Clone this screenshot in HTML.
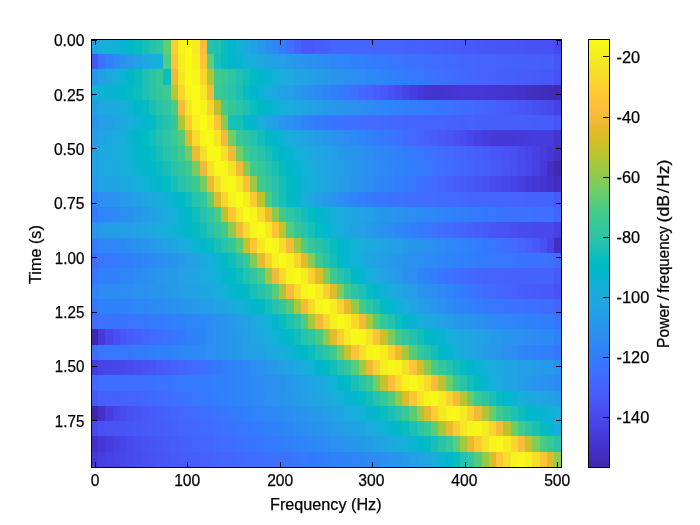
<!DOCTYPE html>
<html lang="en"><head><meta charset="utf-8"><title>Spectrogram</title>
<style>html,body{margin:0;padding:0;background:#fff;}body{width:700px;height:525px;overflow:hidden;}svg{display:block;}text{font-family:"Liberation Sans", "DejaVu Sans", sans-serif;fill:#000;stroke:#000;stroke-width:0.25px;}</style></head><body>
<svg width="700" height="525" viewBox="0 0 700 525">
<rect x="0" y="0" width="700" height="525" fill="#ffffff"/>
<g shape-rendering="crispEdges">
<rect x="91" y="39" width="7" height="15" fill="#1fa6e1"/>
<rect x="98" y="39" width="7" height="15" fill="#19addc"/>
<rect x="105" y="39" width="8" height="15" fill="#16afda"/>
<rect x="113" y="39" width="7" height="15" fill="#11b1d6"/>
<rect x="120" y="39" width="7" height="15" fill="#07b5d0"/>
<rect x="127" y="39" width="7" height="15" fill="#01b8c9"/>
<rect x="134" y="39" width="8" height="15" fill="#06bcc0"/>
<rect x="142" y="39" width="7" height="15" fill="#17bfb6"/>
<rect x="149" y="39" width="7" height="15" fill="#27c2ab"/>
<rect x="156" y="39" width="7" height="15" fill="#2fc5a3"/>
<rect x="163" y="39" width="8" height="15" fill="#62cd70"/>
<rect x="171" y="39" width="7" height="15" fill="#fdcd31"/>
<rect x="178" y="39" width="7" height="15" fill="#f6f21d"/>
<rect x="185" y="39" width="7" height="15" fill="#f9fb15"/>
<rect x="192" y="39" width="8" height="15" fill="#f5eb23"/>
<rect x="200" y="39" width="7" height="15" fill="#fabc3d"/>
<rect x="207" y="39" width="7" height="15" fill="#25c2ae"/>
<rect x="214" y="39" width="7" height="15" fill="#1fc1b1"/>
<rect x="221" y="39" width="7" height="15" fill="#0abdbd"/>
<rect x="228" y="39" width="8" height="15" fill="#02b7cb"/>
<rect x="236" y="39" width="7" height="15" fill="#12b1d7"/>
<rect x="243" y="39" width="7" height="15" fill="#1ca9df"/>
<rect x="250" y="39" width="7" height="15" fill="#22a1e4"/>
<rect x="257" y="39" width="8" height="15" fill="#2699e9"/>
<rect x="265" y="39" width="7" height="15" fill="#2b91ef"/>
<rect x="272" y="39" width="7" height="15" fill="#2d87f7"/>
<rect x="279" y="39" width="7" height="15" fill="#317dfc"/>
<rect x="286" y="39" width="8" height="15" fill="#3d71ff"/>
<rect x="294" y="39" width="7" height="15" fill="#4563fd"/>
<rect x="301" y="39" width="14" height="15" fill="#4759f8"/>
<rect x="315" y="39" width="8" height="15" fill="#465efb"/>
<rect x="323" y="39" width="7" height="15" fill="#4561fc"/>
<rect x="330" y="39" width="7" height="15" fill="#4564fd"/>
<rect x="337" y="39" width="7" height="15" fill="#4465fd"/>
<rect x="344" y="39" width="29" height="15" fill="#4466fd"/>
<rect x="373" y="39" width="15" height="15" fill="#4465fd"/>
<rect x="388" y="39" width="7" height="15" fill="#4564fd"/>
<rect x="395" y="39" width="7" height="15" fill="#4563fd"/>
<rect x="402" y="39" width="7" height="15" fill="#4562fc"/>
<rect x="409" y="39" width="8" height="15" fill="#4561fc"/>
<rect x="417" y="39" width="7" height="15" fill="#4661fc"/>
<rect x="424" y="39" width="7" height="15" fill="#4660fb"/>
<rect x="431" y="39" width="7" height="15" fill="#465ffb"/>
<rect x="438" y="39" width="8" height="15" fill="#465efb"/>
<rect x="446" y="39" width="7" height="15" fill="#475dfa"/>
<rect x="453" y="39" width="7" height="15" fill="#475bfa"/>
<rect x="460" y="39" width="7" height="15" fill="#475af9"/>
<rect x="467" y="39" width="7" height="15" fill="#4759f9"/>
<rect x="474" y="39" width="8" height="15" fill="#4758f8"/>
<rect x="482" y="39" width="7" height="15" fill="#4757f7"/>
<rect x="489" y="39" width="7" height="15" fill="#4756f7"/>
<rect x="496" y="39" width="7" height="15" fill="#4755f6"/>
<rect x="503" y="39" width="8" height="15" fill="#4854f6"/>
<rect x="511" y="39" width="7" height="15" fill="#4854f5"/>
<rect x="518" y="39" width="7" height="15" fill="#4853f5"/>
<rect x="525" y="39" width="15" height="15" fill="#4852f4"/>
<rect x="540" y="39" width="14" height="15" fill="#4851f3"/>
<rect x="554" y="39" width="8" height="15" fill="#4849ed"/>
<rect x="91" y="54" width="7" height="15" fill="#4756f7"/>
<rect x="98" y="54" width="7" height="15" fill="#3c72ff"/>
<rect x="105" y="54" width="8" height="15" fill="#2f81fa"/>
<rect x="113" y="54" width="7" height="15" fill="#2d8af4"/>
<rect x="120" y="54" width="7" height="15" fill="#2b92ee"/>
<rect x="127" y="54" width="7" height="15" fill="#2699e9"/>
<rect x="134" y="54" width="8" height="15" fill="#23a0e5"/>
<rect x="142" y="54" width="7" height="15" fill="#1da8e0"/>
<rect x="149" y="54" width="7" height="15" fill="#14b0d8"/>
<rect x="156" y="54" width="7" height="15" fill="#18addb"/>
<rect x="163" y="54" width="8" height="15" fill="#4fcc80"/>
<rect x="171" y="54" width="7" height="15" fill="#fec338"/>
<rect x="178" y="54" width="7" height="15" fill="#f5ef20"/>
<rect x="185" y="54" width="7" height="15" fill="#f9fb15"/>
<rect x="192" y="54" width="8" height="15" fill="#f6f020"/>
<rect x="200" y="54" width="7" height="15" fill="#fec636"/>
<rect x="207" y="54" width="7" height="15" fill="#5ecd74"/>
<rect x="214" y="54" width="7" height="15" fill="#1ac0b5"/>
<rect x="221" y="54" width="7" height="15" fill="#08bcbe"/>
<rect x="228" y="54" width="8" height="15" fill="#01b8c8"/>
<rect x="236" y="54" width="7" height="15" fill="#09b4d1"/>
<rect x="243" y="54" width="7" height="15" fill="#14b0d8"/>
<rect x="250" y="54" width="7" height="15" fill="#1aacdd"/>
<rect x="257" y="54" width="8" height="15" fill="#1ea8e0"/>
<rect x="265" y="54" width="7" height="15" fill="#21a4e3"/>
<rect x="272" y="54" width="7" height="15" fill="#23a0e5"/>
<rect x="279" y="54" width="7" height="15" fill="#259de7"/>
<rect x="286" y="54" width="8" height="15" fill="#2699e9"/>
<rect x="294" y="54" width="7" height="15" fill="#2796eb"/>
<rect x="301" y="54" width="7" height="15" fill="#2a93ed"/>
<rect x="308" y="54" width="7" height="15" fill="#2b90f0"/>
<rect x="315" y="54" width="8" height="15" fill="#2c8ef2"/>
<rect x="323" y="54" width="7" height="15" fill="#2d8bf4"/>
<rect x="330" y="54" width="7" height="15" fill="#2d88f6"/>
<rect x="337" y="54" width="7" height="15" fill="#2e86f7"/>
<rect x="344" y="54" width="7" height="15" fill="#2e84f9"/>
<rect x="351" y="54" width="8" height="15" fill="#2f81fa"/>
<rect x="359" y="54" width="7" height="15" fill="#307ffb"/>
<rect x="366" y="54" width="7" height="15" fill="#317dfc"/>
<rect x="373" y="54" width="7" height="15" fill="#337bfc"/>
<rect x="380" y="54" width="8" height="15" fill="#3579fd"/>
<rect x="388" y="54" width="7" height="15" fill="#3777fe"/>
<rect x="395" y="54" width="7" height="15" fill="#3975fe"/>
<rect x="402" y="54" width="7" height="15" fill="#3b73fe"/>
<rect x="409" y="54" width="8" height="15" fill="#3c71ff"/>
<rect x="417" y="54" width="7" height="15" fill="#3e6fff"/>
<rect x="424" y="54" width="7" height="15" fill="#3f6efe"/>
<rect x="431" y="54" width="7" height="15" fill="#406cfe"/>
<rect x="438" y="54" width="8" height="15" fill="#416bfe"/>
<rect x="446" y="54" width="7" height="15" fill="#4269fe"/>
<rect x="453" y="54" width="7" height="15" fill="#4368fe"/>
<rect x="460" y="54" width="7" height="15" fill="#4367fd"/>
<rect x="467" y="54" width="7" height="15" fill="#4466fd"/>
<rect x="474" y="54" width="8" height="15" fill="#4465fd"/>
<rect x="482" y="54" width="7" height="15" fill="#4564fd"/>
<rect x="489" y="54" width="7" height="15" fill="#4563fd"/>
<rect x="496" y="54" width="15" height="15" fill="#4562fc"/>
<rect x="511" y="54" width="7" height="15" fill="#4561fc"/>
<rect x="518" y="54" width="7" height="15" fill="#4660fc"/>
<rect x="525" y="54" width="15" height="15" fill="#4660fb"/>
<rect x="540" y="54" width="14" height="15" fill="#465ffb"/>
<rect x="554" y="54" width="8" height="15" fill="#4758f8"/>
<rect x="91" y="69" width="7" height="16" fill="#2797eb"/>
<rect x="98" y="69" width="7" height="16" fill="#22a1e4"/>
<rect x="105" y="69" width="8" height="16" fill="#1da8e0"/>
<rect x="113" y="69" width="7" height="16" fill="#16aeda"/>
<rect x="120" y="69" width="7" height="16" fill="#0ab4d2"/>
<rect x="127" y="69" width="7" height="16" fill="#01b8c8"/>
<rect x="134" y="69" width="8" height="16" fill="#09bdbe"/>
<rect x="142" y="69" width="7" height="16" fill="#1ec0b2"/>
<rect x="149" y="69" width="7" height="16" fill="#2dc4a5"/>
<rect x="156" y="69" width="7" height="16" fill="#37c897"/>
<rect x="163" y="69" width="8" height="16" fill="#0dbdbc"/>
<rect x="171" y="69" width="7" height="16" fill="#eeba34"/>
<rect x="178" y="69" width="7" height="16" fill="#f5e626"/>
<rect x="185" y="69" width="7" height="16" fill="#f9fa16"/>
<rect x="192" y="69" width="8" height="16" fill="#f7f61b"/>
<rect x="200" y="69" width="7" height="16" fill="#f9d62d"/>
<rect x="207" y="69" width="7" height="16" fill="#afc637"/>
<rect x="214" y="69" width="7" height="16" fill="#43ca8b"/>
<rect x="221" y="69" width="7" height="16" fill="#38c896"/>
<rect x="228" y="69" width="8" height="16" fill="#2ec5a4"/>
<rect x="236" y="69" width="7" height="16" fill="#22c1af"/>
<rect x="243" y="69" width="7" height="16" fill="#10beba"/>
<rect x="250" y="69" width="7" height="16" fill="#03bbc3"/>
<rect x="257" y="69" width="8" height="16" fill="#02b7ca"/>
<rect x="265" y="69" width="7" height="16" fill="#09b4d1"/>
<rect x="272" y="69" width="7" height="16" fill="#13b1d7"/>
<rect x="279" y="69" width="7" height="16" fill="#19addc"/>
<rect x="286" y="69" width="8" height="16" fill="#1caadf"/>
<rect x="294" y="69" width="7" height="16" fill="#1fa6e2"/>
<rect x="301" y="69" width="7" height="16" fill="#21a3e4"/>
<rect x="308" y="69" width="7" height="16" fill="#239fe5"/>
<rect x="315" y="69" width="8" height="16" fill="#259ce7"/>
<rect x="323" y="69" width="7" height="16" fill="#2699e9"/>
<rect x="330" y="69" width="7" height="16" fill="#2796eb"/>
<rect x="337" y="69" width="7" height="16" fill="#2a93ed"/>
<rect x="344" y="69" width="7" height="16" fill="#2b91ef"/>
<rect x="351" y="69" width="8" height="16" fill="#2c8ef2"/>
<rect x="359" y="69" width="7" height="16" fill="#2d8bf4"/>
<rect x="366" y="69" width="7" height="16" fill="#2d88f6"/>
<rect x="373" y="69" width="7" height="16" fill="#2e86f7"/>
<rect x="380" y="69" width="8" height="16" fill="#2e83f9"/>
<rect x="388" y="69" width="7" height="16" fill="#2f81fa"/>
<rect x="395" y="69" width="7" height="16" fill="#317efb"/>
<rect x="402" y="69" width="7" height="16" fill="#327cfc"/>
<rect x="409" y="69" width="8" height="16" fill="#3479fd"/>
<rect x="417" y="69" width="7" height="16" fill="#3777fe"/>
<rect x="424" y="69" width="7" height="16" fill="#3974fe"/>
<rect x="431" y="69" width="7" height="16" fill="#3c72ff"/>
<rect x="438" y="69" width="8" height="16" fill="#3e6fff"/>
<rect x="446" y="69" width="7" height="16" fill="#406dfe"/>
<rect x="453" y="69" width="7" height="16" fill="#416bfe"/>
<rect x="460" y="69" width="7" height="16" fill="#4269fe"/>
<rect x="467" y="69" width="7" height="16" fill="#4367fd"/>
<rect x="474" y="69" width="8" height="16" fill="#4465fd"/>
<rect x="482" y="69" width="7" height="16" fill="#4563fd"/>
<rect x="489" y="69" width="7" height="16" fill="#4562fc"/>
<rect x="496" y="69" width="7" height="16" fill="#4660fc"/>
<rect x="503" y="69" width="8" height="16" fill="#465ffb"/>
<rect x="511" y="69" width="7" height="16" fill="#465efb"/>
<rect x="518" y="69" width="14" height="16" fill="#475cfa"/>
<rect x="532" y="69" width="8" height="16" fill="#475bf9"/>
<rect x="540" y="69" width="14" height="16" fill="#475af9"/>
<rect x="554" y="69" width="8" height="16" fill="#4852f4"/>
<rect x="91" y="85" width="7" height="15" fill="#18aedb"/>
<rect x="98" y="85" width="7" height="15" fill="#0cb3d3"/>
<rect x="105" y="85" width="8" height="15" fill="#09b4d1"/>
<rect x="113" y="85" width="7" height="15" fill="#05b6ce"/>
<rect x="120" y="85" width="7" height="15" fill="#01b8c9"/>
<rect x="127" y="85" width="7" height="15" fill="#02bbc3"/>
<rect x="134" y="85" width="8" height="15" fill="#0dbdbb"/>
<rect x="142" y="85" width="7" height="15" fill="#1ec0b2"/>
<rect x="149" y="85" width="7" height="15" fill="#2cc4a7"/>
<rect x="156" y="85" width="7" height="15" fill="#35c79a"/>
<rect x="163" y="85" width="8" height="15" fill="#3dc990"/>
<rect x="171" y="85" width="7" height="15" fill="#b9c431"/>
<rect x="178" y="85" width="7" height="15" fill="#fad52d"/>
<rect x="185" y="85" width="7" height="15" fill="#f7f51b"/>
<rect x="192" y="85" width="8" height="15" fill="#f9fa16"/>
<rect x="200" y="85" width="7" height="15" fill="#f5e725"/>
<rect x="207" y="85" width="7" height="15" fill="#f3ba38"/>
<rect x="214" y="85" width="7" height="15" fill="#3ac994"/>
<rect x="221" y="85" width="7" height="15" fill="#34c79c"/>
<rect x="228" y="85" width="8" height="15" fill="#2bc3a8"/>
<rect x="236" y="85" width="7" height="15" fill="#1ac0b5"/>
<rect x="243" y="85" width="7" height="15" fill="#06bcc0"/>
<rect x="250" y="85" width="7" height="15" fill="#02b7cb"/>
<rect x="257" y="85" width="8" height="15" fill="#0db3d4"/>
<rect x="265" y="85" width="7" height="15" fill="#18aedb"/>
<rect x="272" y="85" width="7" height="15" fill="#1da9e0"/>
<rect x="279" y="85" width="7" height="15" fill="#21a3e3"/>
<rect x="286" y="85" width="8" height="15" fill="#249ee6"/>
<rect x="294" y="85" width="7" height="15" fill="#2699e9"/>
<rect x="301" y="85" width="7" height="15" fill="#2994ed"/>
<rect x="308" y="85" width="7" height="15" fill="#2c8ff0"/>
<rect x="315" y="85" width="8" height="15" fill="#2d8af4"/>
<rect x="323" y="85" width="7" height="15" fill="#2e85f8"/>
<rect x="330" y="85" width="7" height="15" fill="#3080fa"/>
<rect x="337" y="85" width="7" height="15" fill="#337bfd"/>
<rect x="344" y="85" width="7" height="15" fill="#3975fe"/>
<rect x="351" y="85" width="8" height="15" fill="#3e6fff"/>
<rect x="359" y="85" width="7" height="15" fill="#4269fe"/>
<rect x="366" y="85" width="7" height="15" fill="#4564fd"/>
<rect x="373" y="85" width="7" height="15" fill="#465efb"/>
<rect x="380" y="85" width="8" height="15" fill="#4758f8"/>
<rect x="388" y="85" width="7" height="15" fill="#4852f4"/>
<rect x="395" y="85" width="7" height="15" fill="#484cef"/>
<rect x="402" y="85" width="7" height="15" fill="#4745e9"/>
<rect x="409" y="85" width="8" height="15" fill="#463ee1"/>
<rect x="417" y="85" width="7" height="15" fill="#4538d8"/>
<rect x="424" y="85" width="7" height="15" fill="#4435d0"/>
<rect x="431" y="85" width="7" height="15" fill="#4434ce"/>
<rect x="438" y="85" width="8" height="15" fill="#4434cf"/>
<rect x="446" y="85" width="7" height="15" fill="#4435d1"/>
<rect x="453" y="85" width="7" height="15" fill="#4536d3"/>
<rect x="460" y="85" width="22" height="15" fill="#4537d5"/>
<rect x="482" y="85" width="7" height="15" fill="#4536d4"/>
<rect x="489" y="85" width="7" height="15" fill="#4536d3"/>
<rect x="496" y="85" width="7" height="15" fill="#4435d1"/>
<rect x="503" y="85" width="8" height="15" fill="#4434ce"/>
<rect x="511" y="85" width="7" height="15" fill="#4433cb"/>
<rect x="518" y="85" width="7" height="15" fill="#4331c8"/>
<rect x="525" y="85" width="7" height="15" fill="#4230c3"/>
<rect x="532" y="85" width="8" height="15" fill="#422ebf"/>
<rect x="540" y="85" width="7" height="15" fill="#412dbc"/>
<rect x="547" y="85" width="7" height="15" fill="#412cb9"/>
<rect x="554" y="85" width="8" height="15" fill="#3f29b2"/>
<rect x="91" y="100" width="7" height="15" fill="#23a0e5"/>
<rect x="98" y="100" width="7" height="15" fill="#1ea7e1"/>
<rect x="105" y="100" width="8" height="15" fill="#1da9e0"/>
<rect x="113" y="100" width="7" height="15" fill="#1aabdd"/>
<rect x="120" y="100" width="7" height="15" fill="#15afd9"/>
<rect x="127" y="100" width="7" height="15" fill="#0cb3d2"/>
<rect x="134" y="100" width="8" height="15" fill="#01b7ca"/>
<rect x="142" y="100" width="7" height="15" fill="#05bbc1"/>
<rect x="149" y="100" width="7" height="15" fill="#19bfb5"/>
<rect x="156" y="100" width="7" height="15" fill="#2ac3a8"/>
<rect x="163" y="100" width="8" height="15" fill="#32c69e"/>
<rect x="171" y="100" width="7" height="15" fill="#4ccb82"/>
<rect x="178" y="100" width="7" height="15" fill="#f9bb3d"/>
<rect x="185" y="100" width="7" height="15" fill="#f5e924"/>
<rect x="192" y="100" width="8" height="15" fill="#f9fa15"/>
<rect x="200" y="100" width="7" height="15" fill="#f7f41c"/>
<rect x="207" y="100" width="7" height="15" fill="#fad42e"/>
<rect x="214" y="100" width="7" height="15" fill="#bdc32e"/>
<rect x="221" y="100" width="7" height="15" fill="#46cb88"/>
<rect x="228" y="100" width="8" height="15" fill="#35c79a"/>
<rect x="236" y="100" width="7" height="15" fill="#2cc4a7"/>
<rect x="243" y="100" width="7" height="15" fill="#1dc0b3"/>
<rect x="250" y="100" width="7" height="15" fill="#0bbdbd"/>
<rect x="257" y="100" width="8" height="15" fill="#01bac5"/>
<rect x="265" y="100" width="7" height="15" fill="#04b6cd"/>
<rect x="272" y="100" width="7" height="15" fill="#0db3d3"/>
<rect x="279" y="100" width="7" height="15" fill="#15afd9"/>
<rect x="286" y="100" width="8" height="15" fill="#1aacdd"/>
<rect x="294" y="100" width="7" height="15" fill="#1da8e0"/>
<rect x="301" y="100" width="7" height="15" fill="#20a5e2"/>
<rect x="308" y="100" width="7" height="15" fill="#22a2e4"/>
<rect x="315" y="100" width="8" height="15" fill="#249ee6"/>
<rect x="323" y="100" width="7" height="15" fill="#259be7"/>
<rect x="330" y="100" width="7" height="15" fill="#2699ea"/>
<rect x="337" y="100" width="7" height="15" fill="#2896ec"/>
<rect x="344" y="100" width="7" height="15" fill="#2a93ed"/>
<rect x="351" y="100" width="8" height="15" fill="#2b90ef"/>
<rect x="359" y="100" width="7" height="15" fill="#2c8ef1"/>
<rect x="366" y="100" width="7" height="15" fill="#2d8bf3"/>
<rect x="373" y="100" width="7" height="15" fill="#2d89f5"/>
<rect x="380" y="100" width="8" height="15" fill="#2e86f7"/>
<rect x="388" y="100" width="7" height="15" fill="#2e84f8"/>
<rect x="395" y="100" width="7" height="15" fill="#2f82fa"/>
<rect x="402" y="100" width="7" height="15" fill="#307ffb"/>
<rect x="409" y="100" width="8" height="15" fill="#317dfc"/>
<rect x="417" y="100" width="7" height="15" fill="#337bfd"/>
<rect x="424" y="100" width="7" height="15" fill="#3578fd"/>
<rect x="431" y="100" width="7" height="15" fill="#3876fe"/>
<rect x="438" y="100" width="8" height="15" fill="#3a73fe"/>
<rect x="446" y="100" width="7" height="15" fill="#3d71ff"/>
<rect x="453" y="100" width="7" height="15" fill="#3f6eff"/>
<rect x="460" y="100" width="7" height="15" fill="#406cfe"/>
<rect x="467" y="100" width="7" height="15" fill="#426afe"/>
<rect x="474" y="100" width="8" height="15" fill="#4367fd"/>
<rect x="482" y="100" width="7" height="15" fill="#4464fd"/>
<rect x="489" y="100" width="7" height="15" fill="#4562fc"/>
<rect x="496" y="100" width="7" height="15" fill="#465ffb"/>
<rect x="503" y="100" width="8" height="15" fill="#475cfa"/>
<rect x="511" y="100" width="7" height="15" fill="#4759f8"/>
<rect x="518" y="100" width="7" height="15" fill="#4756f7"/>
<rect x="525" y="100" width="7" height="15" fill="#4853f4"/>
<rect x="532" y="100" width="8" height="15" fill="#484ff2"/>
<rect x="540" y="100" width="7" height="15" fill="#484cef"/>
<rect x="547" y="100" width="7" height="15" fill="#4849ed"/>
<rect x="554" y="100" width="8" height="15" fill="#4740e4"/>
<rect x="91" y="115" width="7" height="15" fill="#2995ec"/>
<rect x="98" y="115" width="7" height="15" fill="#259de7"/>
<rect x="105" y="115" width="8" height="15" fill="#23a0e5"/>
<rect x="113" y="115" width="7" height="15" fill="#20a5e2"/>
<rect x="120" y="115" width="7" height="15" fill="#1ca9df"/>
<rect x="127" y="115" width="7" height="15" fill="#17aeda"/>
<rect x="134" y="115" width="8" height="15" fill="#0db3d4"/>
<rect x="142" y="115" width="7" height="15" fill="#03b7cc"/>
<rect x="149" y="115" width="7" height="15" fill="#03bbc2"/>
<rect x="156" y="115" width="7" height="15" fill="#16bfb7"/>
<rect x="163" y="115" width="8" height="15" fill="#27c2ab"/>
<rect x="171" y="115" width="7" height="15" fill="#35c79a"/>
<rect x="178" y="115" width="7" height="15" fill="#b2c535"/>
<rect x="185" y="115" width="7" height="15" fill="#fdce31"/>
<rect x="192" y="115" width="8" height="15" fill="#f6f21e"/>
<rect x="200" y="115" width="7" height="15" fill="#f9fb15"/>
<rect x="207" y="115" width="7" height="15" fill="#f5ed22"/>
<rect x="214" y="115" width="7" height="15" fill="#fec239"/>
<rect x="221" y="115" width="7" height="15" fill="#8acb52"/>
<rect x="228" y="115" width="8" height="15" fill="#1bc0b4"/>
<rect x="236" y="115" width="7" height="15" fill="#15bfb7"/>
<rect x="243" y="115" width="7" height="15" fill="#02bac4"/>
<rect x="250" y="115" width="7" height="15" fill="#09b4d1"/>
<rect x="257" y="115" width="8" height="15" fill="#18addb"/>
<rect x="265" y="115" width="7" height="15" fill="#1fa6e2"/>
<rect x="272" y="115" width="7" height="15" fill="#249ee6"/>
<rect x="279" y="115" width="7" height="15" fill="#2797ea"/>
<rect x="286" y="115" width="8" height="15" fill="#2b91ef"/>
<rect x="294" y="115" width="7" height="15" fill="#2d8bf4"/>
<rect x="301" y="115" width="7" height="15" fill="#2e85f8"/>
<rect x="308" y="115" width="7" height="15" fill="#3080fa"/>
<rect x="315" y="115" width="8" height="15" fill="#327cfc"/>
<rect x="323" y="115" width="7" height="15" fill="#3578fd"/>
<rect x="330" y="115" width="7" height="15" fill="#3875fe"/>
<rect x="337" y="115" width="7" height="15" fill="#3a73fe"/>
<rect x="344" y="115" width="7" height="15" fill="#3c71ff"/>
<rect x="351" y="115" width="8" height="15" fill="#3e6fff"/>
<rect x="359" y="115" width="7" height="15" fill="#3f6eff"/>
<rect x="366" y="115" width="7" height="15" fill="#406dfe"/>
<rect x="373" y="115" width="7" height="15" fill="#416cfe"/>
<rect x="380" y="115" width="8" height="15" fill="#416afe"/>
<rect x="388" y="115" width="7" height="15" fill="#4269fe"/>
<rect x="395" y="115" width="7" height="15" fill="#4368fe"/>
<rect x="402" y="115" width="7" height="15" fill="#4367fd"/>
<rect x="409" y="115" width="8" height="15" fill="#4366fd"/>
<rect x="417" y="115" width="7" height="15" fill="#4466fd"/>
<rect x="424" y="115" width="7" height="15" fill="#4465fd"/>
<rect x="431" y="115" width="7" height="15" fill="#4564fd"/>
<rect x="438" y="115" width="8" height="15" fill="#4563fd"/>
<rect x="446" y="115" width="14" height="15" fill="#4562fc"/>
<rect x="460" y="115" width="7" height="15" fill="#4561fc"/>
<rect x="467" y="115" width="7" height="15" fill="#4661fc"/>
<rect x="474" y="115" width="8" height="15" fill="#4660fc"/>
<rect x="482" y="115" width="7" height="15" fill="#4660fb"/>
<rect x="489" y="115" width="14" height="15" fill="#465ffb"/>
<rect x="503" y="115" width="29" height="15" fill="#465efb"/>
<rect x="532" y="115" width="15" height="15" fill="#465dfb"/>
<rect x="547" y="115" width="7" height="15" fill="#465dfa"/>
<rect x="554" y="115" width="8" height="15" fill="#4756f6"/>
<rect x="91" y="130" width="7" height="16" fill="#259ce7"/>
<rect x="98" y="130" width="7" height="16" fill="#21a3e3"/>
<rect x="105" y="130" width="8" height="16" fill="#1ea7e1"/>
<rect x="113" y="130" width="7" height="16" fill="#1babde"/>
<rect x="120" y="130" width="7" height="16" fill="#15afd9"/>
<rect x="127" y="130" width="7" height="16" fill="#0bb3d2"/>
<rect x="134" y="130" width="8" height="16" fill="#02b7cb"/>
<rect x="142" y="130" width="7" height="16" fill="#02bbc3"/>
<rect x="149" y="130" width="7" height="16" fill="#11beb9"/>
<rect x="156" y="130" width="7" height="16" fill="#24c1af"/>
<rect x="163" y="130" width="8" height="16" fill="#2fc5a2"/>
<rect x="171" y="130" width="7" height="16" fill="#39c994"/>
<rect x="178" y="130" width="7" height="16" fill="#56cc7b"/>
<rect x="185" y="130" width="7" height="16" fill="#dbbd29"/>
<rect x="192" y="130" width="8" height="16" fill="#f8da2b"/>
<rect x="200" y="130" width="7" height="16" fill="#f7f61a"/>
<rect x="207" y="130" width="7" height="16" fill="#f9f916"/>
<rect x="214" y="130" width="7" height="16" fill="#f5e526"/>
<rect x="221" y="130" width="7" height="16" fill="#f6ba3b"/>
<rect x="228" y="130" width="8" height="16" fill="#71cd64"/>
<rect x="236" y="130" width="7" height="16" fill="#39c895"/>
<rect x="243" y="130" width="7" height="16" fill="#30c5a1"/>
<rect x="250" y="130" width="7" height="16" fill="#25c2ae"/>
<rect x="257" y="130" width="8" height="16" fill="#11beba"/>
<rect x="265" y="130" width="7" height="16" fill="#02bac4"/>
<rect x="272" y="130" width="7" height="16" fill="#04b6cd"/>
<rect x="279" y="130" width="7" height="16" fill="#0fb2d4"/>
<rect x="286" y="130" width="8" height="16" fill="#17aedb"/>
<rect x="294" y="130" width="7" height="16" fill="#1ca9df"/>
<rect x="301" y="130" width="7" height="16" fill="#20a5e2"/>
<rect x="308" y="130" width="7" height="16" fill="#23a1e5"/>
<rect x="315" y="130" width="8" height="16" fill="#259ce7"/>
<rect x="323" y="130" width="7" height="16" fill="#2698ea"/>
<rect x="330" y="130" width="7" height="16" fill="#2994ed"/>
<rect x="337" y="130" width="7" height="16" fill="#2b90ef"/>
<rect x="344" y="130" width="7" height="16" fill="#2d8df3"/>
<rect x="351" y="130" width="8" height="16" fill="#2d89f6"/>
<rect x="359" y="130" width="7" height="16" fill="#2e85f8"/>
<rect x="366" y="130" width="7" height="16" fill="#2f81fa"/>
<rect x="373" y="130" width="7" height="16" fill="#317dfc"/>
<rect x="380" y="130" width="8" height="16" fill="#3579fd"/>
<rect x="388" y="130" width="7" height="16" fill="#3975fe"/>
<rect x="395" y="130" width="7" height="16" fill="#3d71ff"/>
<rect x="402" y="130" width="7" height="16" fill="#406cfe"/>
<rect x="409" y="130" width="8" height="16" fill="#4368fe"/>
<rect x="417" y="130" width="7" height="16" fill="#4464fd"/>
<rect x="424" y="130" width="7" height="16" fill="#4660fc"/>
<rect x="431" y="130" width="7" height="16" fill="#475cfa"/>
<rect x="438" y="130" width="8" height="16" fill="#4758f8"/>
<rect x="446" y="130" width="7" height="16" fill="#4854f5"/>
<rect x="453" y="130" width="7" height="16" fill="#4850f2"/>
<rect x="460" y="130" width="7" height="16" fill="#484bef"/>
<rect x="467" y="130" width="7" height="16" fill="#4746ea"/>
<rect x="474" y="130" width="8" height="16" fill="#4741e5"/>
<rect x="482" y="130" width="7" height="16" fill="#463de0"/>
<rect x="489" y="130" width="7" height="16" fill="#463adb"/>
<rect x="496" y="130" width="15" height="16" fill="#4538d7"/>
<rect x="511" y="130" width="7" height="16" fill="#4538d8"/>
<rect x="518" y="130" width="7" height="16" fill="#4639d9"/>
<rect x="525" y="130" width="7" height="16" fill="#463adb"/>
<rect x="532" y="130" width="8" height="16" fill="#463bdd"/>
<rect x="540" y="130" width="14" height="16" fill="#463cde"/>
<rect x="554" y="130" width="8" height="16" fill="#4536d4"/>
<rect x="91" y="146" width="7" height="15" fill="#22a2e4"/>
<rect x="98" y="146" width="7" height="15" fill="#1da9e0"/>
<rect x="105" y="146" width="8" height="15" fill="#1baade"/>
<rect x="113" y="146" width="7" height="15" fill="#19addc"/>
<rect x="120" y="146" width="7" height="15" fill="#15afd9"/>
<rect x="127" y="146" width="7" height="15" fill="#0eb2d4"/>
<rect x="134" y="146" width="8" height="15" fill="#06b6ce"/>
<rect x="142" y="146" width="7" height="15" fill="#01b9c7"/>
<rect x="149" y="146" width="7" height="15" fill="#07bcbf"/>
<rect x="156" y="146" width="7" height="15" fill="#18bfb6"/>
<rect x="163" y="146" width="8" height="15" fill="#28c3ab"/>
<rect x="171" y="146" width="7" height="15" fill="#32c69e"/>
<rect x="178" y="146" width="7" height="15" fill="#3dc990"/>
<rect x="185" y="146" width="7" height="15" fill="#6acd69"/>
<rect x="192" y="146" width="8" height="15" fill="#ecba32"/>
<rect x="200" y="146" width="7" height="15" fill="#f6df29"/>
<rect x="207" y="146" width="14" height="15" fill="#f8f818"/>
<rect x="221" y="146" width="7" height="15" fill="#f5e228"/>
<rect x="228" y="146" width="8" height="15" fill="#f0ba36"/>
<rect x="236" y="146" width="7" height="15" fill="#77cc60"/>
<rect x="243" y="146" width="7" height="15" fill="#3fca8e"/>
<rect x="250" y="146" width="7" height="15" fill="#33c79d"/>
<rect x="257" y="146" width="8" height="15" fill="#29c3aa"/>
<rect x="265" y="146" width="7" height="15" fill="#19bfb6"/>
<rect x="272" y="146" width="7" height="15" fill="#07bcc0"/>
<rect x="279" y="146" width="7" height="15" fill="#01b8c8"/>
<rect x="286" y="146" width="8" height="15" fill="#07b5d0"/>
<rect x="294" y="146" width="7" height="15" fill="#12b1d6"/>
<rect x="301" y="146" width="7" height="15" fill="#19addc"/>
<rect x="308" y="146" width="7" height="15" fill="#1ca9df"/>
<rect x="315" y="146" width="8" height="15" fill="#1fa5e2"/>
<rect x="323" y="146" width="7" height="15" fill="#22a1e4"/>
<rect x="330" y="146" width="7" height="15" fill="#249ee6"/>
<rect x="337" y="146" width="7" height="15" fill="#269ae8"/>
<rect x="344" y="146" width="7" height="15" fill="#2797eb"/>
<rect x="351" y="146" width="8" height="15" fill="#2a93ed"/>
<rect x="359" y="146" width="7" height="15" fill="#2c90f0"/>
<rect x="366" y="146" width="7" height="15" fill="#2d8df2"/>
<rect x="373" y="146" width="7" height="15" fill="#2d89f5"/>
<rect x="380" y="146" width="8" height="15" fill="#2e86f7"/>
<rect x="388" y="146" width="7" height="15" fill="#2e83f9"/>
<rect x="395" y="146" width="7" height="15" fill="#3080fa"/>
<rect x="402" y="146" width="7" height="15" fill="#317dfc"/>
<rect x="409" y="146" width="8" height="15" fill="#347afd"/>
<rect x="417" y="146" width="7" height="15" fill="#3776fe"/>
<rect x="424" y="146" width="7" height="15" fill="#3a73fe"/>
<rect x="431" y="146" width="7" height="15" fill="#3e70ff"/>
<rect x="438" y="146" width="8" height="15" fill="#406dfe"/>
<rect x="446" y="146" width="7" height="15" fill="#426afe"/>
<rect x="453" y="146" width="7" height="15" fill="#4367fd"/>
<rect x="460" y="146" width="7" height="15" fill="#4564fd"/>
<rect x="467" y="146" width="7" height="15" fill="#4561fc"/>
<rect x="474" y="146" width="8" height="15" fill="#465efb"/>
<rect x="482" y="146" width="7" height="15" fill="#475bf9"/>
<rect x="489" y="146" width="7" height="15" fill="#4758f8"/>
<rect x="496" y="146" width="7" height="15" fill="#4755f6"/>
<rect x="503" y="146" width="8" height="15" fill="#4851f3"/>
<rect x="511" y="146" width="7" height="15" fill="#484ef1"/>
<rect x="518" y="146" width="7" height="15" fill="#484aed"/>
<rect x="525" y="146" width="7" height="15" fill="#4745e9"/>
<rect x="532" y="146" width="8" height="15" fill="#4741e4"/>
<rect x="540" y="146" width="7" height="15" fill="#463cde"/>
<rect x="547" y="146" width="7" height="15" fill="#4538d7"/>
<rect x="554" y="146" width="8" height="15" fill="#4332c8"/>
<rect x="91" y="161" width="7" height="15" fill="#22a2e4"/>
<rect x="98" y="161" width="7" height="15" fill="#1da9e0"/>
<rect x="105" y="161" width="8" height="15" fill="#1caadf"/>
<rect x="113" y="161" width="7" height="15" fill="#1aabdd"/>
<rect x="120" y="161" width="7" height="15" fill="#18addb"/>
<rect x="127" y="161" width="7" height="15" fill="#14b0d8"/>
<rect x="134" y="161" width="8" height="15" fill="#0db3d3"/>
<rect x="142" y="161" width="7" height="15" fill="#05b6cd"/>
<rect x="149" y="161" width="7" height="15" fill="#01b9c7"/>
<rect x="156" y="161" width="7" height="15" fill="#08bcbf"/>
<rect x="163" y="161" width="8" height="15" fill="#19bfb5"/>
<rect x="171" y="161" width="7" height="15" fill="#29c3aa"/>
<rect x="178" y="161" width="7" height="15" fill="#33c69d"/>
<rect x="185" y="161" width="7" height="15" fill="#3eca8f"/>
<rect x="192" y="161" width="8" height="15" fill="#79cc5e"/>
<rect x="200" y="161" width="7" height="15" fill="#f0ba36"/>
<rect x="207" y="161" width="7" height="15" fill="#f6e028"/>
<rect x="214" y="161" width="7" height="15" fill="#f8f718"/>
<rect x="221" y="161" width="7" height="15" fill="#f8f818"/>
<rect x="228" y="161" width="8" height="15" fill="#f5e228"/>
<rect x="236" y="161" width="7" height="15" fill="#f4ba39"/>
<rect x="243" y="161" width="7" height="15" fill="#85cb55"/>
<rect x="250" y="161" width="7" height="15" fill="#40ca8d"/>
<rect x="257" y="161" width="8" height="15" fill="#34c79c"/>
<rect x="265" y="161" width="7" height="15" fill="#29c3a9"/>
<rect x="272" y="161" width="7" height="15" fill="#19bfb5"/>
<rect x="279" y="161" width="7" height="15" fill="#07bcbf"/>
<rect x="286" y="161" width="8" height="15" fill="#01b8c8"/>
<rect x="294" y="161" width="7" height="15" fill="#07b5d0"/>
<rect x="301" y="161" width="7" height="15" fill="#12b1d6"/>
<rect x="308" y="161" width="7" height="15" fill="#18addb"/>
<rect x="315" y="161" width="8" height="15" fill="#1ca9df"/>
<rect x="323" y="161" width="7" height="15" fill="#1fa5e2"/>
<rect x="330" y="161" width="7" height="15" fill="#22a1e4"/>
<rect x="337" y="161" width="7" height="15" fill="#249ee6"/>
<rect x="344" y="161" width="7" height="15" fill="#269ae8"/>
<rect x="351" y="161" width="8" height="15" fill="#2797eb"/>
<rect x="359" y="161" width="7" height="15" fill="#2a93ed"/>
<rect x="366" y="161" width="7" height="15" fill="#2c90f0"/>
<rect x="373" y="161" width="7" height="15" fill="#2d8df2"/>
<rect x="380" y="161" width="8" height="15" fill="#2d8af5"/>
<rect x="388" y="161" width="7" height="15" fill="#2e86f7"/>
<rect x="395" y="161" width="7" height="15" fill="#2e83f9"/>
<rect x="402" y="161" width="7" height="15" fill="#2f80fa"/>
<rect x="409" y="161" width="8" height="15" fill="#317dfc"/>
<rect x="417" y="161" width="7" height="15" fill="#347afd"/>
<rect x="424" y="161" width="7" height="15" fill="#3777fe"/>
<rect x="431" y="161" width="7" height="15" fill="#3a74fe"/>
<rect x="438" y="161" width="8" height="15" fill="#3d70ff"/>
<rect x="446" y="161" width="7" height="15" fill="#3f6dfe"/>
<rect x="453" y="161" width="7" height="15" fill="#426afe"/>
<rect x="460" y="161" width="7" height="15" fill="#4367fd"/>
<rect x="467" y="161" width="7" height="15" fill="#4464fd"/>
<rect x="474" y="161" width="8" height="15" fill="#4561fc"/>
<rect x="482" y="161" width="7" height="15" fill="#465efb"/>
<rect x="489" y="161" width="7" height="15" fill="#475bf9"/>
<rect x="496" y="161" width="7" height="15" fill="#4758f8"/>
<rect x="503" y="161" width="8" height="15" fill="#4854f6"/>
<rect x="511" y="161" width="7" height="15" fill="#4850f3"/>
<rect x="518" y="161" width="7" height="15" fill="#484cf0"/>
<rect x="525" y="161" width="7" height="15" fill="#4747eb"/>
<rect x="532" y="161" width="8" height="15" fill="#4741e4"/>
<rect x="540" y="161" width="7" height="15" fill="#4639d9"/>
<rect x="547" y="161" width="7" height="15" fill="#4230c4"/>
<rect x="554" y="161" width="8" height="15" fill="#3e28ad"/>
<rect x="91" y="176" width="7" height="16" fill="#259ce7"/>
<rect x="98" y="176" width="7" height="16" fill="#21a3e3"/>
<rect x="105" y="176" width="8" height="16" fill="#20a4e3"/>
<rect x="113" y="176" width="7" height="16" fill="#1fa6e2"/>
<rect x="120" y="176" width="7" height="16" fill="#1da9e0"/>
<rect x="127" y="176" width="7" height="16" fill="#1aabdd"/>
<rect x="134" y="176" width="8" height="16" fill="#16aeda"/>
<rect x="142" y="176" width="7" height="16" fill="#10b2d5"/>
<rect x="149" y="176" width="7" height="16" fill="#07b5cf"/>
<rect x="156" y="176" width="7" height="16" fill="#01b8c8"/>
<rect x="163" y="176" width="8" height="16" fill="#06bcc0"/>
<rect x="171" y="176" width="7" height="16" fill="#16bfb7"/>
<rect x="178" y="176" width="7" height="16" fill="#26c2ac"/>
<rect x="185" y="176" width="7" height="16" fill="#31c69f"/>
<rect x="192" y="176" width="8" height="16" fill="#3dca90"/>
<rect x="200" y="176" width="7" height="16" fill="#7acc5e"/>
<rect x="207" y="176" width="7" height="16" fill="#eaba31"/>
<rect x="214" y="176" width="7" height="16" fill="#f7dc2a"/>
<rect x="221" y="176" width="7" height="16" fill="#f7f61a"/>
<rect x="228" y="176" width="8" height="16" fill="#f8f917"/>
<rect x="236" y="176" width="7" height="16" fill="#f5e626"/>
<rect x="243" y="176" width="7" height="16" fill="#fdbd3d"/>
<rect x="250" y="176" width="7" height="16" fill="#9dc943"/>
<rect x="257" y="176" width="8" height="16" fill="#3fca8e"/>
<rect x="265" y="176" width="7" height="16" fill="#33c69e"/>
<rect x="272" y="176" width="7" height="16" fill="#27c2ab"/>
<rect x="279" y="176" width="7" height="16" fill="#15bfb7"/>
<rect x="286" y="176" width="8" height="16" fill="#04bbc2"/>
<rect x="294" y="176" width="7" height="16" fill="#02b7cb"/>
<rect x="301" y="176" width="7" height="16" fill="#0cb3d3"/>
<rect x="308" y="176" width="7" height="16" fill="#16afda"/>
<rect x="315" y="176" width="8" height="16" fill="#1baade"/>
<rect x="323" y="176" width="7" height="16" fill="#1fa6e2"/>
<rect x="330" y="176" width="7" height="16" fill="#22a1e4"/>
<rect x="337" y="176" width="7" height="16" fill="#249de6"/>
<rect x="344" y="176" width="7" height="16" fill="#2699e9"/>
<rect x="351" y="176" width="8" height="16" fill="#2895ec"/>
<rect x="359" y="176" width="7" height="16" fill="#2b91ef"/>
<rect x="366" y="176" width="7" height="16" fill="#2d8df2"/>
<rect x="373" y="176" width="7" height="16" fill="#2d89f5"/>
<rect x="380" y="176" width="8" height="16" fill="#2e85f8"/>
<rect x="388" y="176" width="7" height="16" fill="#2f82fa"/>
<rect x="395" y="176" width="7" height="16" fill="#317efb"/>
<rect x="402" y="176" width="7" height="16" fill="#347afd"/>
<rect x="409" y="176" width="8" height="16" fill="#3876fe"/>
<rect x="417" y="176" width="7" height="16" fill="#3c72ff"/>
<rect x="424" y="176" width="7" height="16" fill="#3f6eff"/>
<rect x="431" y="176" width="7" height="16" fill="#426afe"/>
<rect x="438" y="176" width="8" height="16" fill="#4367fd"/>
<rect x="446" y="176" width="7" height="16" fill="#4563fc"/>
<rect x="453" y="176" width="7" height="16" fill="#465ffb"/>
<rect x="460" y="176" width="7" height="16" fill="#475cfa"/>
<rect x="467" y="176" width="7" height="16" fill="#4758f8"/>
<rect x="474" y="176" width="8" height="16" fill="#4755f6"/>
<rect x="482" y="176" width="7" height="16" fill="#4851f3"/>
<rect x="489" y="176" width="7" height="16" fill="#484df0"/>
<rect x="496" y="176" width="7" height="16" fill="#4849ed"/>
<rect x="503" y="176" width="8" height="16" fill="#4746ea"/>
<rect x="511" y="176" width="7" height="16" fill="#4742e6"/>
<rect x="518" y="176" width="7" height="16" fill="#463ee1"/>
<rect x="525" y="176" width="7" height="16" fill="#463adb"/>
<rect x="532" y="176" width="8" height="16" fill="#4537d5"/>
<rect x="540" y="176" width="7" height="16" fill="#4434cf"/>
<rect x="547" y="176" width="7" height="16" fill="#4332ca"/>
<rect x="554" y="176" width="8" height="16" fill="#422ebe"/>
<rect x="91" y="192" width="7" height="15" fill="#2e87f7"/>
<rect x="98" y="192" width="7" height="15" fill="#2c8ff1"/>
<rect x="105" y="192" width="8" height="15" fill="#2b91ef"/>
<rect x="113" y="192" width="7" height="15" fill="#2994ed"/>
<rect x="120" y="192" width="7" height="15" fill="#2798ea"/>
<rect x="127" y="192" width="7" height="15" fill="#259ce7"/>
<rect x="134" y="192" width="8" height="15" fill="#23a0e5"/>
<rect x="142" y="192" width="7" height="15" fill="#20a4e3"/>
<rect x="149" y="192" width="7" height="15" fill="#1da9e0"/>
<rect x="156" y="192" width="7" height="15" fill="#19addc"/>
<rect x="163" y="192" width="8" height="15" fill="#11b1d6"/>
<rect x="171" y="192" width="7" height="15" fill="#06b5ce"/>
<rect x="178" y="192" width="7" height="15" fill="#01bac5"/>
<rect x="185" y="192" width="7" height="15" fill="#0fbeba"/>
<rect x="192" y="192" width="8" height="15" fill="#25c2ae"/>
<rect x="200" y="192" width="7" height="15" fill="#32c69e"/>
<rect x="207" y="192" width="7" height="15" fill="#65cd6e"/>
<rect x="214" y="192" width="7" height="15" fill="#dabd28"/>
<rect x="221" y="192" width="7" height="15" fill="#fbd32e"/>
<rect x="228" y="192" width="8" height="15" fill="#f6f21e"/>
<rect x="236" y="192" width="7" height="15" fill="#f9fa15"/>
<rect x="243" y="192" width="7" height="15" fill="#f5ed22"/>
<rect x="250" y="192" width="7" height="15" fill="#fec934"/>
<rect x="257" y="192" width="8" height="15" fill="#c1c32c"/>
<rect x="265" y="192" width="7" height="15" fill="#49cb85"/>
<rect x="272" y="192" width="7" height="15" fill="#2cc4a7"/>
<rect x="279" y="192" width="7" height="15" fill="#19bfb6"/>
<rect x="286" y="192" width="8" height="15" fill="#02bac3"/>
<rect x="294" y="192" width="7" height="15" fill="#07b5cf"/>
<rect x="301" y="192" width="7" height="15" fill="#16afd9"/>
<rect x="308" y="192" width="7" height="15" fill="#1da8e0"/>
<rect x="315" y="192" width="8" height="15" fill="#22a1e4"/>
<rect x="323" y="192" width="7" height="15" fill="#259be8"/>
<rect x="330" y="192" width="7" height="15" fill="#2995ec"/>
<rect x="337" y="192" width="7" height="15" fill="#2c8ff1"/>
<rect x="344" y="192" width="7" height="15" fill="#2d89f5"/>
<rect x="351" y="192" width="8" height="15" fill="#2e84f8"/>
<rect x="359" y="192" width="7" height="15" fill="#3080fb"/>
<rect x="366" y="192" width="7" height="15" fill="#327cfc"/>
<rect x="373" y="192" width="7" height="15" fill="#3578fd"/>
<rect x="380" y="192" width="8" height="15" fill="#3876fe"/>
<rect x="388" y="192" width="7" height="15" fill="#3a74fe"/>
<rect x="395" y="192" width="7" height="15" fill="#3c72ff"/>
<rect x="402" y="192" width="7" height="15" fill="#3d70ff"/>
<rect x="409" y="192" width="8" height="15" fill="#3e6fff"/>
<rect x="417" y="192" width="7" height="15" fill="#3f6efe"/>
<rect x="424" y="192" width="7" height="15" fill="#406dfe"/>
<rect x="431" y="192" width="7" height="15" fill="#416cfe"/>
<rect x="438" y="192" width="8" height="15" fill="#416bfe"/>
<rect x="446" y="192" width="7" height="15" fill="#426afe"/>
<rect x="453" y="192" width="7" height="15" fill="#4369fe"/>
<rect x="460" y="192" width="7" height="15" fill="#4368fe"/>
<rect x="467" y="192" width="7" height="15" fill="#4367fd"/>
<rect x="474" y="192" width="8" height="15" fill="#4366fd"/>
<rect x="482" y="192" width="7" height="15" fill="#4466fd"/>
<rect x="489" y="192" width="14" height="15" fill="#4465fd"/>
<rect x="503" y="192" width="15" height="15" fill="#4564fd"/>
<rect x="518" y="192" width="7" height="15" fill="#4563fd"/>
<rect x="525" y="192" width="15" height="15" fill="#4563fc"/>
<rect x="540" y="192" width="14" height="15" fill="#4562fc"/>
<rect x="554" y="192" width="8" height="15" fill="#475bf9"/>
<rect x="91" y="207" width="7" height="15" fill="#337bfc"/>
<rect x="98" y="207" width="7" height="15" fill="#2e84f9"/>
<rect x="105" y="207" width="8" height="15" fill="#2e86f7"/>
<rect x="113" y="207" width="7" height="15" fill="#2d8af5"/>
<rect x="120" y="207" width="7" height="15" fill="#2c8ef2"/>
<rect x="127" y="207" width="7" height="15" fill="#2a92ee"/>
<rect x="134" y="207" width="8" height="15" fill="#2797eb"/>
<rect x="142" y="207" width="7" height="15" fill="#259ce7"/>
<rect x="149" y="207" width="7" height="15" fill="#23a1e5"/>
<rect x="156" y="207" width="7" height="15" fill="#1fa6e2"/>
<rect x="163" y="207" width="8" height="15" fill="#1babde"/>
<rect x="171" y="207" width="7" height="15" fill="#14b0d8"/>
<rect x="178" y="207" width="7" height="15" fill="#07b5d0"/>
<rect x="185" y="207" width="7" height="15" fill="#01b9c6"/>
<rect x="192" y="207" width="8" height="15" fill="#0fbebb"/>
<rect x="200" y="207" width="7" height="15" fill="#25c2ae"/>
<rect x="207" y="207" width="7" height="15" fill="#31c6a0"/>
<rect x="214" y="207" width="7" height="15" fill="#46cb88"/>
<rect x="221" y="207" width="7" height="15" fill="#bbc42f"/>
<rect x="228" y="207" width="8" height="15" fill="#fec636"/>
<rect x="236" y="207" width="7" height="15" fill="#f5ea23"/>
<rect x="243" y="207" width="7" height="15" fill="#f9fa16"/>
<rect x="250" y="207" width="7" height="15" fill="#f7f41c"/>
<rect x="257" y="207" width="8" height="15" fill="#f8d92c"/>
<rect x="265" y="207" width="7" height="15" fill="#e9bb30"/>
<rect x="272" y="207" width="7" height="15" fill="#87cb54"/>
<rect x="279" y="207" width="7" height="15" fill="#40ca8d"/>
<rect x="286" y="207" width="8" height="15" fill="#30c5a1"/>
<rect x="294" y="207" width="7" height="15" fill="#24c1ae"/>
<rect x="301" y="207" width="7" height="15" fill="#11beb9"/>
<rect x="308" y="207" width="7" height="15" fill="#02bbc3"/>
<rect x="315" y="207" width="8" height="15" fill="#02b7cb"/>
<rect x="323" y="207" width="7" height="15" fill="#0bb3d2"/>
<rect x="330" y="207" width="7" height="15" fill="#14b0d8"/>
<rect x="337" y="207" width="7" height="15" fill="#19acdc"/>
<rect x="344" y="207" width="7" height="15" fill="#1da9e0"/>
<rect x="351" y="207" width="8" height="15" fill="#20a5e2"/>
<rect x="359" y="207" width="7" height="15" fill="#22a2e4"/>
<rect x="366" y="207" width="7" height="15" fill="#249ee6"/>
<rect x="373" y="207" width="7" height="15" fill="#259be7"/>
<rect x="380" y="207" width="8" height="15" fill="#2698ea"/>
<rect x="388" y="207" width="7" height="15" fill="#2896ec"/>
<rect x="395" y="207" width="7" height="15" fill="#2a93ee"/>
<rect x="402" y="207" width="7" height="15" fill="#2b90f0"/>
<rect x="409" y="207" width="8" height="15" fill="#2c8ef2"/>
<rect x="417" y="207" width="7" height="15" fill="#2d8bf4"/>
<rect x="424" y="207" width="7" height="15" fill="#2d89f5"/>
<rect x="431" y="207" width="7" height="15" fill="#2e86f7"/>
<rect x="438" y="207" width="8" height="15" fill="#2e84f8"/>
<rect x="446" y="207" width="7" height="15" fill="#2f82f9"/>
<rect x="453" y="207" width="7" height="15" fill="#3080fa"/>
<rect x="460" y="207" width="7" height="15" fill="#317efb"/>
<rect x="467" y="207" width="7" height="15" fill="#327cfc"/>
<rect x="474" y="207" width="8" height="15" fill="#337afd"/>
<rect x="482" y="207" width="7" height="15" fill="#3578fd"/>
<rect x="489" y="207" width="7" height="15" fill="#3777fe"/>
<rect x="496" y="207" width="7" height="15" fill="#3875fe"/>
<rect x="503" y="207" width="8" height="15" fill="#3a74fe"/>
<rect x="511" y="207" width="7" height="15" fill="#3b73fe"/>
<rect x="518" y="207" width="7" height="15" fill="#3c72ff"/>
<rect x="525" y="207" width="7" height="15" fill="#3d71ff"/>
<rect x="532" y="207" width="8" height="15" fill="#3d70ff"/>
<rect x="540" y="207" width="14" height="15" fill="#3e6fff"/>
<rect x="554" y="207" width="8" height="15" fill="#4367fd"/>
<rect x="91" y="222" width="7" height="16" fill="#2995ec"/>
<rect x="98" y="222" width="7" height="16" fill="#259be7"/>
<rect x="105" y="222" width="8" height="16" fill="#259ce7"/>
<rect x="113" y="222" width="7" height="16" fill="#249de7"/>
<rect x="120" y="222" width="7" height="16" fill="#249ee6"/>
<rect x="127" y="222" width="7" height="16" fill="#23a0e5"/>
<rect x="134" y="222" width="8" height="16" fill="#22a2e4"/>
<rect x="142" y="222" width="7" height="16" fill="#20a5e2"/>
<rect x="149" y="222" width="7" height="16" fill="#1ea8e0"/>
<rect x="156" y="222" width="7" height="16" fill="#1babde"/>
<rect x="163" y="222" width="8" height="16" fill="#17aeda"/>
<rect x="171" y="222" width="7" height="16" fill="#11b1d6"/>
<rect x="178" y="222" width="7" height="16" fill="#08b5d0"/>
<rect x="185" y="222" width="7" height="16" fill="#01b8c9"/>
<rect x="192" y="222" width="8" height="16" fill="#05bbc1"/>
<rect x="200" y="222" width="7" height="16" fill="#15bfb7"/>
<rect x="207" y="222" width="7" height="16" fill="#26c2ac"/>
<rect x="214" y="222" width="7" height="16" fill="#32c69f"/>
<rect x="221" y="222" width="7" height="16" fill="#43ca8a"/>
<rect x="228" y="222" width="8" height="16" fill="#93ca4b"/>
<rect x="236" y="222" width="7" height="16" fill="#f1ba37"/>
<rect x="243" y="222" width="7" height="16" fill="#f7dc2a"/>
<rect x="250" y="222" width="7" height="16" fill="#f7f51b"/>
<rect x="257" y="222" width="8" height="16" fill="#f9f917"/>
<rect x="265" y="222" width="7" height="16" fill="#f5e924"/>
<rect x="272" y="222" width="7" height="16" fill="#fec537"/>
<rect x="279" y="222" width="7" height="16" fill="#c0c32d"/>
<rect x="286" y="222" width="8" height="16" fill="#56cc7b"/>
<rect x="294" y="222" width="7" height="16" fill="#34c79b"/>
<rect x="301" y="222" width="7" height="16" fill="#29c3aa"/>
<rect x="308" y="222" width="7" height="16" fill="#16bfb7"/>
<rect x="315" y="222" width="8" height="16" fill="#03bbc2"/>
<rect x="323" y="222" width="7" height="16" fill="#03b7cc"/>
<rect x="330" y="222" width="7" height="16" fill="#0fb2d5"/>
<rect x="337" y="222" width="7" height="16" fill="#18addb"/>
<rect x="344" y="222" width="7" height="16" fill="#1da8e0"/>
<rect x="351" y="222" width="8" height="16" fill="#21a3e3"/>
<rect x="359" y="222" width="7" height="16" fill="#249fe6"/>
<rect x="366" y="222" width="7" height="16" fill="#269ae8"/>
<rect x="373" y="222" width="7" height="16" fill="#2896ec"/>
<rect x="380" y="222" width="8" height="16" fill="#2b91ef"/>
<rect x="388" y="222" width="7" height="16" fill="#2d8df2"/>
<rect x="395" y="222" width="7" height="16" fill="#2d88f6"/>
<rect x="402" y="222" width="7" height="16" fill="#2e84f8"/>
<rect x="409" y="222" width="8" height="16" fill="#3080fb"/>
<rect x="417" y="222" width="7" height="16" fill="#327cfc"/>
<rect x="424" y="222" width="7" height="16" fill="#3777fe"/>
<rect x="431" y="222" width="7" height="16" fill="#3b73fe"/>
<rect x="438" y="222" width="8" height="16" fill="#3f6eff"/>
<rect x="446" y="222" width="7" height="16" fill="#416bfe"/>
<rect x="453" y="222" width="7" height="16" fill="#4367fd"/>
<rect x="460" y="222" width="7" height="16" fill="#4563fd"/>
<rect x="467" y="222" width="7" height="16" fill="#4660fb"/>
<rect x="474" y="222" width="8" height="16" fill="#475cfa"/>
<rect x="482" y="222" width="7" height="16" fill="#4759f8"/>
<rect x="489" y="222" width="7" height="16" fill="#4756f7"/>
<rect x="496" y="222" width="7" height="16" fill="#4853f5"/>
<rect x="503" y="222" width="8" height="16" fill="#4851f3"/>
<rect x="511" y="222" width="7" height="16" fill="#484ef1"/>
<rect x="518" y="222" width="7" height="16" fill="#484cf0"/>
<rect x="525" y="222" width="7" height="16" fill="#484bee"/>
<rect x="532" y="222" width="8" height="16" fill="#4849ed"/>
<rect x="540" y="222" width="14" height="16" fill="#4848ec"/>
<rect x="554" y="222" width="8" height="16" fill="#4740e4"/>
<rect x="91" y="238" width="7" height="15" fill="#317dfc"/>
<rect x="98" y="238" width="7" height="15" fill="#2e85f8"/>
<rect x="105" y="238" width="8" height="15" fill="#2e86f7"/>
<rect x="113" y="238" width="7" height="15" fill="#2d88f6"/>
<rect x="120" y="238" width="7" height="15" fill="#2d8af4"/>
<rect x="127" y="238" width="7" height="15" fill="#2d8df2"/>
<rect x="134" y="238" width="8" height="15" fill="#2b91ef"/>
<rect x="142" y="238" width="7" height="15" fill="#2994ed"/>
<rect x="149" y="238" width="7" height="15" fill="#2798ea"/>
<rect x="156" y="238" width="7" height="15" fill="#259ce7"/>
<rect x="163" y="238" width="8" height="15" fill="#23a1e5"/>
<rect x="171" y="238" width="7" height="15" fill="#20a5e2"/>
<rect x="178" y="238" width="7" height="15" fill="#1caadf"/>
<rect x="185" y="238" width="7" height="15" fill="#16aeda"/>
<rect x="192" y="238" width="8" height="15" fill="#0cb3d3"/>
<rect x="200" y="238" width="7" height="15" fill="#02b7cb"/>
<rect x="207" y="238" width="7" height="15" fill="#05bbc1"/>
<rect x="214" y="238" width="7" height="15" fill="#19bfb6"/>
<rect x="221" y="238" width="7" height="15" fill="#2ac3a9"/>
<rect x="228" y="238" width="8" height="15" fill="#35c79a"/>
<rect x="236" y="238" width="7" height="15" fill="#59cc78"/>
<rect x="243" y="238" width="7" height="15" fill="#c5c22a"/>
<rect x="250" y="238" width="7" height="15" fill="#fec636"/>
<rect x="257" y="238" width="8" height="15" fill="#f5e924"/>
<rect x="265" y="238" width="7" height="15" fill="#f8f917"/>
<rect x="272" y="238" width="7" height="15" fill="#f7f51b"/>
<rect x="279" y="238" width="7" height="15" fill="#f7dd2a"/>
<rect x="286" y="238" width="8" height="15" fill="#f5ba3a"/>
<rect x="294" y="238" width="7" height="15" fill="#a1c840"/>
<rect x="301" y="238" width="7" height="15" fill="#4ecc81"/>
<rect x="308" y="238" width="7" height="15" fill="#35c79b"/>
<rect x="315" y="238" width="8" height="15" fill="#2ac3a9"/>
<rect x="323" y="238" width="7" height="15" fill="#1abfb5"/>
<rect x="330" y="238" width="7" height="15" fill="#08bcbf"/>
<rect x="337" y="238" width="7" height="15" fill="#01b9c8"/>
<rect x="344" y="238" width="7" height="15" fill="#06b5cf"/>
<rect x="351" y="238" width="8" height="15" fill="#10b2d5"/>
<rect x="359" y="238" width="7" height="15" fill="#17aeda"/>
<rect x="366" y="238" width="7" height="15" fill="#1baade"/>
<rect x="373" y="238" width="7" height="15" fill="#1ea7e1"/>
<rect x="380" y="238" width="8" height="15" fill="#21a3e3"/>
<rect x="388" y="238" width="7" height="15" fill="#23a0e5"/>
<rect x="395" y="238" width="7" height="15" fill="#259de7"/>
<rect x="402" y="238" width="7" height="15" fill="#269ae9"/>
<rect x="409" y="238" width="8" height="15" fill="#2797eb"/>
<rect x="417" y="238" width="7" height="15" fill="#2994ed"/>
<rect x="424" y="238" width="7" height="15" fill="#2b91ef"/>
<rect x="431" y="238" width="7" height="15" fill="#2c8ef1"/>
<rect x="438" y="238" width="8" height="15" fill="#2d8bf4"/>
<rect x="446" y="238" width="7" height="15" fill="#2d88f6"/>
<rect x="453" y="238" width="7" height="15" fill="#2e86f8"/>
<rect x="460" y="238" width="7" height="15" fill="#2e83f9"/>
<rect x="467" y="238" width="7" height="15" fill="#3080fb"/>
<rect x="474" y="238" width="8" height="15" fill="#317dfc"/>
<rect x="482" y="238" width="7" height="15" fill="#3479fd"/>
<rect x="489" y="238" width="7" height="15" fill="#3876fe"/>
<rect x="496" y="238" width="7" height="15" fill="#3b72ff"/>
<rect x="503" y="238" width="8" height="15" fill="#3f6eff"/>
<rect x="511" y="238" width="7" height="15" fill="#426afe"/>
<rect x="518" y="238" width="7" height="15" fill="#4466fd"/>
<rect x="525" y="238" width="7" height="15" fill="#4660fc"/>
<rect x="532" y="238" width="8" height="15" fill="#475af9"/>
<rect x="540" y="238" width="7" height="15" fill="#4851f3"/>
<rect x="547" y="238" width="7" height="15" fill="#4743e7"/>
<rect x="554" y="238" width="8" height="15" fill="#422ebf"/>
<rect x="91" y="253" width="7" height="15" fill="#3f6eff"/>
<rect x="98" y="253" width="7" height="15" fill="#3777fe"/>
<rect x="105" y="253" width="8" height="15" fill="#3678fd"/>
<rect x="113" y="253" width="7" height="15" fill="#347afd"/>
<rect x="120" y="253" width="7" height="15" fill="#317dfc"/>
<rect x="127" y="253" width="7" height="15" fill="#307ffb"/>
<rect x="134" y="253" width="8" height="15" fill="#2f83f9"/>
<rect x="142" y="253" width="7" height="15" fill="#2e86f7"/>
<rect x="149" y="253" width="7" height="15" fill="#2d89f5"/>
<rect x="156" y="253" width="7" height="15" fill="#2d8df2"/>
<rect x="163" y="253" width="8" height="15" fill="#2b91ef"/>
<rect x="171" y="253" width="7" height="15" fill="#2895ec"/>
<rect x="178" y="253" width="7" height="15" fill="#2699e9"/>
<rect x="185" y="253" width="7" height="15" fill="#249ee6"/>
<rect x="192" y="253" width="8" height="15" fill="#21a3e3"/>
<rect x="200" y="253" width="7" height="15" fill="#1da9e0"/>
<rect x="207" y="253" width="7" height="15" fill="#17aeda"/>
<rect x="214" y="253" width="7" height="15" fill="#0ab4d2"/>
<rect x="221" y="253" width="7" height="15" fill="#01b9c7"/>
<rect x="228" y="253" width="8" height="15" fill="#0fbeba"/>
<rect x="236" y="253" width="7" height="15" fill="#27c2ac"/>
<rect x="243" y="253" width="7" height="15" fill="#37c897"/>
<rect x="250" y="253" width="7" height="15" fill="#80cc59"/>
<rect x="257" y="253" width="8" height="15" fill="#e3bb2c"/>
<rect x="265" y="253" width="7" height="15" fill="#fbd32e"/>
<rect x="272" y="253" width="7" height="15" fill="#f6f01f"/>
<rect x="279" y="253" width="7" height="15" fill="#f9fa16"/>
<rect x="286" y="253" width="8" height="15" fill="#f6f01f"/>
<rect x="294" y="253" width="7" height="15" fill="#fbd32e"/>
<rect x="301" y="253" width="7" height="15" fill="#e5bb2d"/>
<rect x="308" y="253" width="7" height="15" fill="#87cb54"/>
<rect x="315" y="253" width="8" height="15" fill="#3bc992"/>
<rect x="323" y="253" width="7" height="15" fill="#2ac3a9"/>
<rect x="330" y="253" width="7" height="15" fill="#14beb8"/>
<rect x="337" y="253" width="7" height="15" fill="#02bac5"/>
<rect x="344" y="253" width="7" height="15" fill="#06b5cf"/>
<rect x="351" y="253" width="8" height="15" fill="#13b0d7"/>
<rect x="359" y="253" width="7" height="15" fill="#1aabde"/>
<rect x="366" y="253" width="7" height="15" fill="#1fa6e1"/>
<rect x="373" y="253" width="7" height="15" fill="#22a2e4"/>
<rect x="380" y="253" width="8" height="15" fill="#249ee6"/>
<rect x="388" y="253" width="7" height="15" fill="#269ae9"/>
<rect x="395" y="253" width="7" height="15" fill="#2797eb"/>
<rect x="402" y="253" width="7" height="15" fill="#2a93ed"/>
<rect x="409" y="253" width="8" height="15" fill="#2b90ef"/>
<rect x="417" y="253" width="7" height="15" fill="#2c8ef2"/>
<rect x="424" y="253" width="7" height="15" fill="#2d8bf4"/>
<rect x="431" y="253" width="7" height="15" fill="#2d89f6"/>
<rect x="438" y="253" width="8" height="15" fill="#2e86f7"/>
<rect x="446" y="253" width="7" height="15" fill="#2e84f8"/>
<rect x="453" y="253" width="7" height="15" fill="#2f82f9"/>
<rect x="460" y="253" width="7" height="15" fill="#2f80fa"/>
<rect x="467" y="253" width="7" height="15" fill="#317efb"/>
<rect x="474" y="253" width="8" height="15" fill="#327cfc"/>
<rect x="482" y="253" width="7" height="15" fill="#337bfd"/>
<rect x="489" y="253" width="7" height="15" fill="#3579fd"/>
<rect x="496" y="253" width="7" height="15" fill="#3678fe"/>
<rect x="503" y="253" width="8" height="15" fill="#3776fe"/>
<rect x="511" y="253" width="7" height="15" fill="#3975fe"/>
<rect x="518" y="253" width="7" height="15" fill="#3a74fe"/>
<rect x="525" y="253" width="7" height="15" fill="#3b73fe"/>
<rect x="532" y="253" width="8" height="15" fill="#3b72ff"/>
<rect x="540" y="253" width="7" height="15" fill="#3c72ff"/>
<rect x="547" y="253" width="7" height="15" fill="#3c71ff"/>
<rect x="554" y="253" width="8" height="15" fill="#4269fe"/>
<rect x="91" y="268" width="7" height="16" fill="#3876fe"/>
<rect x="98" y="268" width="7" height="16" fill="#307ffb"/>
<rect x="105" y="268" width="8" height="16" fill="#2f80fa"/>
<rect x="113" y="268" width="7" height="16" fill="#2f82f9"/>
<rect x="120" y="268" width="7" height="16" fill="#2e85f8"/>
<rect x="127" y="268" width="7" height="16" fill="#2d88f6"/>
<rect x="134" y="268" width="8" height="16" fill="#2d8bf4"/>
<rect x="142" y="268" width="7" height="16" fill="#2c8ef1"/>
<rect x="149" y="268" width="7" height="16" fill="#2b91ef"/>
<rect x="156" y="268" width="7" height="16" fill="#2995ec"/>
<rect x="163" y="268" width="8" height="16" fill="#2798ea"/>
<rect x="171" y="268" width="7" height="16" fill="#259be8"/>
<rect x="178" y="268" width="7" height="16" fill="#249fe6"/>
<rect x="185" y="268" width="7" height="16" fill="#22a2e4"/>
<rect x="192" y="268" width="8" height="16" fill="#1fa6e2"/>
<rect x="200" y="268" width="7" height="16" fill="#1caadf"/>
<rect x="207" y="268" width="7" height="16" fill="#18aedb"/>
<rect x="214" y="268" width="7" height="16" fill="#10b2d5"/>
<rect x="221" y="268" width="7" height="16" fill="#05b6ce"/>
<rect x="228" y="268" width="8" height="16" fill="#01bac6"/>
<rect x="236" y="268" width="7" height="16" fill="#0dbdbb"/>
<rect x="243" y="268" width="7" height="16" fill="#23c1af"/>
<rect x="250" y="268" width="7" height="16" fill="#31c5a1"/>
<rect x="257" y="268" width="8" height="16" fill="#49cb85"/>
<rect x="265" y="268" width="7" height="16" fill="#9fc941"/>
<rect x="272" y="268" width="7" height="16" fill="#f3ba39"/>
<rect x="279" y="268" width="7" height="16" fill="#f8da2b"/>
<rect x="286" y="268" width="8" height="16" fill="#f7f31d"/>
<rect x="294" y="268" width="7" height="16" fill="#f9f916"/>
<rect x="301" y="268" width="7" height="16" fill="#f5ed22"/>
<rect x="308" y="268" width="7" height="16" fill="#fdce31"/>
<rect x="315" y="268" width="8" height="16" fill="#ddbd29"/>
<rect x="323" y="268" width="7" height="16" fill="#7ecc5b"/>
<rect x="330" y="268" width="7" height="16" fill="#3ac993"/>
<rect x="337" y="268" width="7" height="16" fill="#2bc3a8"/>
<rect x="344" y="268" width="7" height="16" fill="#16bfb7"/>
<rect x="351" y="268" width="8" height="16" fill="#02bac4"/>
<rect x="359" y="268" width="7" height="16" fill="#06b5cf"/>
<rect x="366" y="268" width="7" height="16" fill="#14b0d8"/>
<rect x="373" y="268" width="7" height="16" fill="#1caadf"/>
<rect x="380" y="268" width="8" height="16" fill="#21a4e3"/>
<rect x="388" y="268" width="7" height="16" fill="#249ee6"/>
<rect x="395" y="268" width="7" height="16" fill="#2798ea"/>
<rect x="402" y="268" width="7" height="16" fill="#2a92ee"/>
<rect x="409" y="268" width="8" height="16" fill="#2d8df2"/>
<rect x="417" y="268" width="7" height="16" fill="#2d87f7"/>
<rect x="424" y="268" width="7" height="16" fill="#2f82fa"/>
<rect x="431" y="268" width="7" height="16" fill="#327dfc"/>
<rect x="438" y="268" width="8" height="16" fill="#3677fe"/>
<rect x="446" y="268" width="7" height="16" fill="#3b72ff"/>
<rect x="453" y="268" width="7" height="16" fill="#3f6eff"/>
<rect x="460" y="268" width="7" height="16" fill="#416afe"/>
<rect x="467" y="268" width="7" height="16" fill="#4368fe"/>
<rect x="474" y="268" width="8" height="16" fill="#4466fd"/>
<rect x="482" y="268" width="7" height="16" fill="#4464fd"/>
<rect x="489" y="268" width="7" height="16" fill="#4564fd"/>
<rect x="496" y="268" width="7" height="16" fill="#4563fd"/>
<rect x="503" y="268" width="29" height="16" fill="#4563fc"/>
<rect x="532" y="268" width="8" height="16" fill="#4562fc"/>
<rect x="540" y="268" width="14" height="16" fill="#4563fc"/>
<rect x="554" y="268" width="8" height="16" fill="#475bf9"/>
<rect x="91" y="284" width="7" height="15" fill="#2e84f8"/>
<rect x="98" y="284" width="7" height="15" fill="#2d8bf3"/>
<rect x="105" y="284" width="15" height="15" fill="#2d8cf3"/>
<rect x="120" y="284" width="7" height="15" fill="#2d8df2"/>
<rect x="127" y="284" width="7" height="15" fill="#2c8ef1"/>
<rect x="134" y="284" width="8" height="15" fill="#2c90f0"/>
<rect x="142" y="284" width="7" height="15" fill="#2b91ef"/>
<rect x="149" y="284" width="7" height="15" fill="#2a93ed"/>
<rect x="156" y="284" width="7" height="15" fill="#2895ec"/>
<rect x="163" y="284" width="8" height="15" fill="#2797ea"/>
<rect x="171" y="284" width="7" height="15" fill="#269ae9"/>
<rect x="178" y="284" width="7" height="15" fill="#259ce7"/>
<rect x="185" y="284" width="7" height="15" fill="#249fe5"/>
<rect x="192" y="284" width="8" height="15" fill="#22a2e4"/>
<rect x="200" y="284" width="7" height="15" fill="#1fa5e2"/>
<rect x="207" y="284" width="7" height="15" fill="#1da9e0"/>
<rect x="214" y="284" width="7" height="15" fill="#19acdc"/>
<rect x="221" y="284" width="7" height="15" fill="#13b0d7"/>
<rect x="228" y="284" width="8" height="15" fill="#0ab4d1"/>
<rect x="236" y="284" width="7" height="15" fill="#01b8ca"/>
<rect x="243" y="284" width="7" height="15" fill="#04bbc1"/>
<rect x="250" y="284" width="7" height="15" fill="#16bfb7"/>
<rect x="257" y="284" width="8" height="15" fill="#28c2ab"/>
<rect x="265" y="284" width="7" height="15" fill="#34c79b"/>
<rect x="272" y="284" width="7" height="15" fill="#55cc7c"/>
<rect x="279" y="284" width="7" height="15" fill="#adc638"/>
<rect x="286" y="284" width="8" height="15" fill="#f9bb3d"/>
<rect x="294" y="284" width="7" height="15" fill="#f7dd2a"/>
<rect x="301" y="284" width="7" height="15" fill="#f7f41c"/>
<rect x="308" y="284" width="7" height="15" fill="#f8f917"/>
<rect x="315" y="284" width="8" height="15" fill="#f5ec23"/>
<rect x="323" y="284" width="7" height="15" fill="#fdcd31"/>
<rect x="330" y="284" width="7" height="15" fill="#debc2a"/>
<rect x="337" y="284" width="7" height="15" fill="#83cc57"/>
<rect x="344" y="284" width="7" height="15" fill="#3eca8f"/>
<rect x="351" y="284" width="8" height="15" fill="#2dc4a5"/>
<rect x="359" y="284" width="7" height="15" fill="#1cc0b4"/>
<rect x="366" y="284" width="7" height="15" fill="#06bcc0"/>
<rect x="373" y="284" width="7" height="15" fill="#02b7cb"/>
<rect x="380" y="284" width="8" height="15" fill="#0fb2d5"/>
<rect x="388" y="284" width="7" height="15" fill="#19addc"/>
<rect x="395" y="284" width="7" height="15" fill="#1ea7e1"/>
<rect x="402" y="284" width="7" height="15" fill="#22a2e4"/>
<rect x="409" y="284" width="8" height="15" fill="#259de7"/>
<rect x="417" y="284" width="7" height="15" fill="#2797ea"/>
<rect x="424" y="284" width="7" height="15" fill="#2a92ee"/>
<rect x="431" y="284" width="7" height="15" fill="#2c8ef2"/>
<rect x="438" y="284" width="8" height="15" fill="#2d89f5"/>
<rect x="446" y="284" width="7" height="15" fill="#2e84f8"/>
<rect x="453" y="284" width="7" height="15" fill="#307ffb"/>
<rect x="460" y="284" width="7" height="15" fill="#337bfc"/>
<rect x="467" y="284" width="7" height="15" fill="#3776fe"/>
<rect x="474" y="284" width="8" height="15" fill="#3c72ff"/>
<rect x="482" y="284" width="7" height="15" fill="#3f6efe"/>
<rect x="489" y="284" width="7" height="15" fill="#426afe"/>
<rect x="496" y="284" width="7" height="15" fill="#4366fd"/>
<rect x="503" y="284" width="8" height="15" fill="#4563fd"/>
<rect x="511" y="284" width="7" height="15" fill="#4661fc"/>
<rect x="518" y="284" width="7" height="15" fill="#465efb"/>
<rect x="525" y="284" width="7" height="15" fill="#475cfa"/>
<rect x="532" y="284" width="8" height="15" fill="#475bf9"/>
<rect x="540" y="284" width="7" height="15" fill="#475af9"/>
<rect x="547" y="284" width="7" height="15" fill="#4759f8"/>
<rect x="554" y="284" width="8" height="15" fill="#4852f4"/>
<rect x="91" y="299" width="7" height="15" fill="#3678fd"/>
<rect x="98" y="299" width="7" height="15" fill="#2f80fa"/>
<rect x="105" y="299" width="8" height="15" fill="#2f81fa"/>
<rect x="113" y="299" width="7" height="15" fill="#2f82fa"/>
<rect x="120" y="299" width="7" height="15" fill="#2e83f9"/>
<rect x="127" y="299" width="7" height="15" fill="#2e84f8"/>
<rect x="134" y="299" width="8" height="15" fill="#2e86f8"/>
<rect x="142" y="299" width="7" height="15" fill="#2d88f6"/>
<rect x="149" y="299" width="7" height="15" fill="#2d8af5"/>
<rect x="156" y="299" width="7" height="15" fill="#2d8cf3"/>
<rect x="163" y="299" width="8" height="15" fill="#2c8ef1"/>
<rect x="171" y="299" width="7" height="15" fill="#2b91ef"/>
<rect x="178" y="299" width="7" height="15" fill="#2a93ed"/>
<rect x="185" y="299" width="7" height="15" fill="#2896eb"/>
<rect x="192" y="299" width="8" height="15" fill="#2699e9"/>
<rect x="200" y="299" width="7" height="15" fill="#259ce7"/>
<rect x="207" y="299" width="7" height="15" fill="#249fe5"/>
<rect x="214" y="299" width="7" height="15" fill="#21a3e4"/>
<rect x="221" y="299" width="7" height="15" fill="#1fa6e1"/>
<rect x="228" y="299" width="8" height="15" fill="#1baade"/>
<rect x="236" y="299" width="7" height="15" fill="#17aeda"/>
<rect x="243" y="299" width="7" height="15" fill="#0eb2d4"/>
<rect x="250" y="299" width="7" height="15" fill="#04b6cd"/>
<rect x="257" y="299" width="8" height="15" fill="#02bac4"/>
<rect x="265" y="299" width="7" height="15" fill="#11beb9"/>
<rect x="272" y="299" width="7" height="15" fill="#26c2ad"/>
<rect x="279" y="299" width="7" height="15" fill="#34c79c"/>
<rect x="286" y="299" width="8" height="15" fill="#56cc7b"/>
<rect x="294" y="299" width="7" height="15" fill="#aec637"/>
<rect x="301" y="299" width="7" height="15" fill="#f8ba3d"/>
<rect x="308" y="299" width="7" height="15" fill="#f7db2a"/>
<rect x="315" y="299" width="8" height="15" fill="#f7f31d"/>
<rect x="323" y="299" width="7" height="15" fill="#f8f917"/>
<rect x="330" y="299" width="7" height="15" fill="#f5ed21"/>
<rect x="337" y="299" width="7" height="15" fill="#fcd12f"/>
<rect x="344" y="299" width="7" height="15" fill="#e7bb2e"/>
<rect x="351" y="299" width="8" height="15" fill="#92ca4b"/>
<rect x="359" y="299" width="7" height="15" fill="#44cb89"/>
<rect x="366" y="299" width="7" height="15" fill="#2ec5a4"/>
<rect x="373" y="299" width="7" height="15" fill="#1cc0b3"/>
<rect x="380" y="299" width="8" height="15" fill="#05bbc1"/>
<rect x="388" y="299" width="7" height="15" fill="#03b7cc"/>
<rect x="395" y="299" width="7" height="15" fill="#11b1d6"/>
<rect x="402" y="299" width="7" height="15" fill="#1aacdd"/>
<rect x="409" y="299" width="8" height="15" fill="#1fa6e2"/>
<rect x="417" y="299" width="7" height="15" fill="#23a0e5"/>
<rect x="424" y="299" width="7" height="15" fill="#269be8"/>
<rect x="431" y="299" width="7" height="15" fill="#2896ec"/>
<rect x="438" y="299" width="8" height="15" fill="#2b91ef"/>
<rect x="446" y="299" width="7" height="15" fill="#2d8cf3"/>
<rect x="453" y="299" width="7" height="15" fill="#2d87f6"/>
<rect x="460" y="299" width="7" height="15" fill="#2e83f9"/>
<rect x="467" y="299" width="7" height="15" fill="#3080fa"/>
<rect x="474" y="299" width="8" height="15" fill="#327dfc"/>
<rect x="482" y="299" width="7" height="15" fill="#347afd"/>
<rect x="489" y="299" width="7" height="15" fill="#3777fe"/>
<rect x="496" y="299" width="7" height="15" fill="#3975fe"/>
<rect x="503" y="299" width="8" height="15" fill="#3a73fe"/>
<rect x="511" y="299" width="7" height="15" fill="#3c72ff"/>
<rect x="518" y="299" width="7" height="15" fill="#3d71ff"/>
<rect x="525" y="299" width="7" height="15" fill="#3e70ff"/>
<rect x="532" y="299" width="8" height="15" fill="#3e6fff"/>
<rect x="540" y="299" width="14" height="15" fill="#3f6eff"/>
<rect x="554" y="299" width="8" height="15" fill="#4466fd"/>
<rect x="91" y="314" width="7" height="15" fill="#426afe"/>
<rect x="98" y="314" width="7" height="15" fill="#3b72ff"/>
<rect x="105" y="314" width="8" height="15" fill="#3b72fe"/>
<rect x="113" y="314" width="7" height="15" fill="#3b73fe"/>
<rect x="120" y="314" width="7" height="15" fill="#3a74fe"/>
<rect x="127" y="314" width="7" height="15" fill="#3975fe"/>
<rect x="134" y="314" width="8" height="15" fill="#3876fe"/>
<rect x="142" y="314" width="7" height="15" fill="#3677fe"/>
<rect x="149" y="314" width="7" height="15" fill="#3579fd"/>
<rect x="156" y="314" width="7" height="15" fill="#337bfc"/>
<rect x="163" y="314" width="8" height="15" fill="#317dfc"/>
<rect x="171" y="314" width="7" height="15" fill="#307ffb"/>
<rect x="178" y="314" width="7" height="15" fill="#2f81fa"/>
<rect x="185" y="314" width="7" height="15" fill="#2e84f9"/>
<rect x="192" y="314" width="8" height="15" fill="#2e86f7"/>
<rect x="200" y="314" width="7" height="15" fill="#2d89f5"/>
<rect x="207" y="314" width="7" height="15" fill="#2d8df2"/>
<rect x="214" y="314" width="7" height="15" fill="#2b90f0"/>
<rect x="221" y="314" width="7" height="15" fill="#2994ed"/>
<rect x="228" y="314" width="8" height="15" fill="#2798ea"/>
<rect x="236" y="314" width="7" height="15" fill="#259de7"/>
<rect x="243" y="314" width="7" height="15" fill="#22a2e4"/>
<rect x="250" y="314" width="7" height="15" fill="#1ea7e1"/>
<rect x="257" y="314" width="8" height="15" fill="#19acdc"/>
<rect x="265" y="314" width="7" height="15" fill="#10b2d5"/>
<rect x="272" y="314" width="7" height="15" fill="#03b7cb"/>
<rect x="279" y="314" width="7" height="15" fill="#07bcc0"/>
<rect x="286" y="314" width="8" height="15" fill="#1ec0b2"/>
<rect x="294" y="314" width="7" height="15" fill="#30c5a2"/>
<rect x="301" y="314" width="7" height="15" fill="#4dcc82"/>
<rect x="308" y="314" width="7" height="15" fill="#a4c83e"/>
<rect x="315" y="314" width="8" height="15" fill="#f2ba37"/>
<rect x="323" y="314" width="7" height="15" fill="#f9d62d"/>
<rect x="330" y="314" width="7" height="15" fill="#f6f01f"/>
<rect x="337" y="314" width="7" height="15" fill="#f8f917"/>
<rect x="344" y="314" width="7" height="15" fill="#f6f11f"/>
<rect x="351" y="314" width="8" height="15" fill="#f9d82c"/>
<rect x="359" y="314" width="7" height="15" fill="#f4ba3a"/>
<rect x="366" y="314" width="7" height="15" fill="#acc739"/>
<rect x="373" y="314" width="7" height="15" fill="#56cc7b"/>
<rect x="380" y="314" width="8" height="15" fill="#33c69d"/>
<rect x="388" y="314" width="7" height="15" fill="#23c1af"/>
<rect x="395" y="314" width="7" height="15" fill="#0bbdbd"/>
<rect x="402" y="314" width="7" height="15" fill="#01b8c8"/>
<rect x="409" y="314" width="8" height="15" fill="#0ab4d1"/>
<rect x="417" y="314" width="7" height="15" fill="#15afd9"/>
<rect x="424" y="314" width="7" height="15" fill="#1baade"/>
<rect x="431" y="314" width="7" height="15" fill="#1fa6e2"/>
<rect x="438" y="314" width="8" height="15" fill="#22a2e4"/>
<rect x="446" y="314" width="7" height="15" fill="#249ee6"/>
<rect x="453" y="314" width="7" height="15" fill="#269ae8"/>
<rect x="460" y="314" width="7" height="15" fill="#2797eb"/>
<rect x="467" y="314" width="7" height="15" fill="#2994ed"/>
<rect x="474" y="314" width="8" height="15" fill="#2b91ef"/>
<rect x="482" y="314" width="7" height="15" fill="#2c8ef2"/>
<rect x="489" y="314" width="7" height="15" fill="#2d8bf4"/>
<rect x="496" y="314" width="7" height="15" fill="#2d89f5"/>
<rect x="503" y="314" width="8" height="15" fill="#2e86f7"/>
<rect x="511" y="314" width="7" height="15" fill="#2e84f8"/>
<rect x="518" y="314" width="7" height="15" fill="#2f83f9"/>
<rect x="525" y="314" width="7" height="15" fill="#2f81fa"/>
<rect x="532" y="314" width="8" height="15" fill="#307ffb"/>
<rect x="540" y="314" width="7" height="15" fill="#307efb"/>
<rect x="547" y="314" width="7" height="15" fill="#317efb"/>
<rect x="554" y="314" width="8" height="15" fill="#3875fe"/>
<rect x="91" y="329" width="7" height="16" fill="#3e27aa"/>
<rect x="98" y="329" width="7" height="16" fill="#4539d8"/>
<rect x="105" y="329" width="8" height="16" fill="#4746ea"/>
<rect x="113" y="329" width="7" height="16" fill="#484ff2"/>
<rect x="120" y="329" width="7" height="16" fill="#4756f7"/>
<rect x="127" y="329" width="7" height="16" fill="#475cfa"/>
<rect x="134" y="329" width="8" height="16" fill="#4561fc"/>
<rect x="142" y="329" width="7" height="16" fill="#4465fd"/>
<rect x="149" y="329" width="7" height="16" fill="#426afe"/>
<rect x="156" y="329" width="7" height="16" fill="#3f6eff"/>
<rect x="163" y="329" width="8" height="16" fill="#3b73fe"/>
<rect x="171" y="329" width="7" height="16" fill="#3777fe"/>
<rect x="178" y="329" width="7" height="16" fill="#337bfc"/>
<rect x="185" y="329" width="7" height="16" fill="#307ffb"/>
<rect x="192" y="329" width="8" height="16" fill="#2e83f9"/>
<rect x="200" y="329" width="7" height="16" fill="#2e87f7"/>
<rect x="207" y="329" width="7" height="16" fill="#2d8bf4"/>
<rect x="214" y="329" width="7" height="16" fill="#2c8ff1"/>
<rect x="221" y="329" width="7" height="16" fill="#2a93ee"/>
<rect x="228" y="329" width="8" height="16" fill="#2797eb"/>
<rect x="236" y="329" width="7" height="16" fill="#259be8"/>
<rect x="243" y="329" width="7" height="16" fill="#23a0e5"/>
<rect x="250" y="329" width="7" height="16" fill="#20a4e3"/>
<rect x="257" y="329" width="8" height="16" fill="#1da9e0"/>
<rect x="265" y="329" width="7" height="16" fill="#18addb"/>
<rect x="272" y="329" width="7" height="16" fill="#10b2d5"/>
<rect x="279" y="329" width="7" height="16" fill="#05b6ce"/>
<rect x="286" y="329" width="8" height="16" fill="#02bac4"/>
<rect x="294" y="329" width="7" height="16" fill="#11beba"/>
<rect x="301" y="329" width="7" height="16" fill="#25c2ad"/>
<rect x="308" y="329" width="7" height="16" fill="#32c69e"/>
<rect x="315" y="329" width="8" height="16" fill="#49cb86"/>
<rect x="323" y="329" width="7" height="16" fill="#92ca4c"/>
<rect x="330" y="329" width="7" height="16" fill="#e4bb2c"/>
<rect x="337" y="329" width="7" height="16" fill="#fdce31"/>
<rect x="344" y="329" width="7" height="16" fill="#f5ea23"/>
<rect x="351" y="329" width="8" height="16" fill="#f8f818"/>
<rect x="359" y="329" width="7" height="16" fill="#f7f51b"/>
<rect x="366" y="329" width="7" height="16" fill="#f5e228"/>
<rect x="373" y="329" width="7" height="16" fill="#fec239"/>
<rect x="380" y="329" width="8" height="16" fill="#ccc028"/>
<rect x="388" y="329" width="7" height="16" fill="#79cc5e"/>
<rect x="395" y="329" width="7" height="16" fill="#42ca8b"/>
<rect x="402" y="329" width="7" height="16" fill="#31c6a0"/>
<rect x="409" y="329" width="8" height="16" fill="#24c1ae"/>
<rect x="417" y="329" width="7" height="16" fill="#11beba"/>
<rect x="424" y="329" width="7" height="16" fill="#02bac3"/>
<rect x="431" y="329" width="7" height="16" fill="#03b7cb"/>
<rect x="438" y="329" width="8" height="16" fill="#0bb3d2"/>
<rect x="446" y="329" width="7" height="16" fill="#14b0d8"/>
<rect x="453" y="329" width="7" height="16" fill="#1aacdd"/>
<rect x="460" y="329" width="7" height="16" fill="#1da8e0"/>
<rect x="467" y="329" width="7" height="16" fill="#20a5e3"/>
<rect x="474" y="329" width="8" height="16" fill="#22a1e4"/>
<rect x="482" y="329" width="7" height="16" fill="#249ee6"/>
<rect x="489" y="329" width="7" height="16" fill="#259be8"/>
<rect x="496" y="329" width="7" height="16" fill="#2798ea"/>
<rect x="503" y="329" width="8" height="16" fill="#2895ec"/>
<rect x="511" y="329" width="7" height="16" fill="#2a92ee"/>
<rect x="518" y="329" width="7" height="16" fill="#2c90f0"/>
<rect x="525" y="329" width="7" height="16" fill="#2d8df2"/>
<rect x="532" y="329" width="8" height="16" fill="#2d8bf3"/>
<rect x="540" y="329" width="7" height="16" fill="#2d8af4"/>
<rect x="547" y="329" width="7" height="16" fill="#2d89f5"/>
<rect x="554" y="329" width="8" height="16" fill="#2f81fa"/>
<rect x="91" y="345" width="7" height="15" fill="#3f6efe"/>
<rect x="98" y="345" width="7" height="15" fill="#3876fe"/>
<rect x="105" y="345" width="8" height="15" fill="#3776fe"/>
<rect x="113" y="345" width="7" height="15" fill="#3677fe"/>
<rect x="120" y="345" width="7" height="15" fill="#3678fd"/>
<rect x="127" y="345" width="7" height="15" fill="#3479fd"/>
<rect x="134" y="345" width="8" height="15" fill="#337bfd"/>
<rect x="142" y="345" width="7" height="15" fill="#327cfc"/>
<rect x="149" y="345" width="7" height="15" fill="#317efb"/>
<rect x="156" y="345" width="7" height="15" fill="#307ffb"/>
<rect x="163" y="345" width="8" height="15" fill="#2f81fa"/>
<rect x="171" y="345" width="7" height="15" fill="#2e83f9"/>
<rect x="178" y="345" width="7" height="15" fill="#2e85f8"/>
<rect x="185" y="345" width="7" height="15" fill="#2d88f6"/>
<rect x="192" y="345" width="8" height="15" fill="#2d8af5"/>
<rect x="200" y="345" width="7" height="15" fill="#2d8cf3"/>
<rect x="207" y="345" width="7" height="15" fill="#2c8ff1"/>
<rect x="214" y="345" width="7" height="15" fill="#2b91ef"/>
<rect x="221" y="345" width="7" height="15" fill="#2994ed"/>
<rect x="228" y="345" width="8" height="15" fill="#2797eb"/>
<rect x="236" y="345" width="7" height="15" fill="#269ae9"/>
<rect x="243" y="345" width="7" height="15" fill="#259de7"/>
<rect x="250" y="345" width="7" height="15" fill="#23a0e5"/>
<rect x="257" y="345" width="8" height="15" fill="#21a3e3"/>
<rect x="265" y="345" width="7" height="15" fill="#1ea7e1"/>
<rect x="272" y="345" width="7" height="15" fill="#1baade"/>
<rect x="279" y="345" width="7" height="15" fill="#17aeda"/>
<rect x="286" y="345" width="8" height="15" fill="#0fb2d5"/>
<rect x="294" y="345" width="7" height="15" fill="#05b6ce"/>
<rect x="301" y="345" width="7" height="15" fill="#01b9c6"/>
<rect x="308" y="345" width="7" height="15" fill="#0bbdbc"/>
<rect x="315" y="345" width="8" height="15" fill="#20c1b1"/>
<rect x="323" y="345" width="7" height="15" fill="#2fc5a3"/>
<rect x="330" y="345" width="7" height="15" fill="#3fca8e"/>
<rect x="337" y="345" width="7" height="15" fill="#76cc61"/>
<rect x="344" y="345" width="7" height="15" fill="#cbc129"/>
<rect x="351" y="345" width="8" height="15" fill="#fec13a"/>
<rect x="359" y="345" width="7" height="15" fill="#f6e128"/>
<rect x="366" y="345" width="7" height="15" fill="#f7f41c"/>
<rect x="373" y="345" width="7" height="15" fill="#f8f818"/>
<rect x="380" y="345" width="8" height="15" fill="#f5ec22"/>
<rect x="388" y="345" width="7" height="15" fill="#fcd12f"/>
<rect x="395" y="345" width="7" height="15" fill="#ecba32"/>
<rect x="402" y="345" width="7" height="15" fill="#a3c83f"/>
<rect x="409" y="345" width="8" height="15" fill="#54cc7c"/>
<rect x="417" y="345" width="7" height="15" fill="#34c79b"/>
<rect x="424" y="345" width="7" height="15" fill="#26c2ac"/>
<rect x="431" y="345" width="7" height="15" fill="#11beba"/>
<rect x="438" y="345" width="8" height="15" fill="#01bac5"/>
<rect x="446" y="345" width="7" height="15" fill="#06b5cf"/>
<rect x="453" y="345" width="7" height="15" fill="#13b0d7"/>
<rect x="460" y="345" width="7" height="15" fill="#1aabdd"/>
<rect x="467" y="345" width="7" height="15" fill="#1fa6e1"/>
<rect x="474" y="345" width="8" height="15" fill="#22a1e4"/>
<rect x="482" y="345" width="7" height="15" fill="#259ce7"/>
<rect x="489" y="345" width="7" height="15" fill="#2798ea"/>
<rect x="496" y="345" width="7" height="15" fill="#2994ed"/>
<rect x="503" y="345" width="8" height="15" fill="#2c8ff0"/>
<rect x="511" y="345" width="7" height="15" fill="#2d8bf3"/>
<rect x="518" y="345" width="7" height="15" fill="#2d88f6"/>
<rect x="525" y="345" width="7" height="15" fill="#2e85f8"/>
<rect x="532" y="345" width="8" height="15" fill="#2f82fa"/>
<rect x="540" y="345" width="7" height="15" fill="#3080fa"/>
<rect x="547" y="345" width="7" height="15" fill="#307ffb"/>
<rect x="554" y="345" width="8" height="15" fill="#3876fe"/>
<rect x="91" y="360" width="7" height="15" fill="#463cde"/>
<rect x="98" y="360" width="7" height="15" fill="#4743e7"/>
<rect x="105" y="360" width="8" height="15" fill="#4745e9"/>
<rect x="113" y="360" width="7" height="15" fill="#4746ea"/>
<rect x="120" y="360" width="7" height="15" fill="#4849ed"/>
<rect x="127" y="360" width="7" height="15" fill="#484bef"/>
<rect x="134" y="360" width="8" height="15" fill="#484ef1"/>
<rect x="142" y="360" width="7" height="15" fill="#4852f4"/>
<rect x="149" y="360" width="7" height="15" fill="#4755f6"/>
<rect x="156" y="360" width="7" height="15" fill="#4759f8"/>
<rect x="163" y="360" width="8" height="15" fill="#475cfa"/>
<rect x="171" y="360" width="7" height="15" fill="#4660fb"/>
<rect x="178" y="360" width="7" height="15" fill="#4564fd"/>
<rect x="185" y="360" width="7" height="15" fill="#4368fd"/>
<rect x="192" y="360" width="8" height="15" fill="#416cfe"/>
<rect x="200" y="360" width="7" height="15" fill="#3e70ff"/>
<rect x="207" y="360" width="7" height="15" fill="#3a74fe"/>
<rect x="214" y="360" width="7" height="15" fill="#3578fd"/>
<rect x="221" y="360" width="7" height="15" fill="#327dfc"/>
<rect x="228" y="360" width="8" height="15" fill="#2f81fa"/>
<rect x="236" y="360" width="7" height="15" fill="#2e85f8"/>
<rect x="243" y="360" width="7" height="15" fill="#2d89f5"/>
<rect x="250" y="360" width="7" height="15" fill="#2d8df2"/>
<rect x="257" y="360" width="8" height="15" fill="#2b91ef"/>
<rect x="265" y="360" width="7" height="15" fill="#2896ec"/>
<rect x="272" y="360" width="7" height="15" fill="#269ae8"/>
<rect x="279" y="360" width="7" height="15" fill="#249fe6"/>
<rect x="286" y="360" width="8" height="15" fill="#21a3e3"/>
<rect x="294" y="360" width="7" height="15" fill="#1da8e0"/>
<rect x="301" y="360" width="7" height="15" fill="#19addc"/>
<rect x="308" y="360" width="7" height="15" fill="#10b2d5"/>
<rect x="315" y="360" width="8" height="15" fill="#04b6cd"/>
<rect x="323" y="360" width="7" height="15" fill="#02bac3"/>
<rect x="330" y="360" width="7" height="15" fill="#14beb8"/>
<rect x="337" y="360" width="7" height="15" fill="#28c2ab"/>
<rect x="344" y="360" width="7" height="15" fill="#35c79a"/>
<rect x="351" y="360" width="8" height="15" fill="#56cc7b"/>
<rect x="359" y="360" width="7" height="15" fill="#a5c83d"/>
<rect x="366" y="360" width="7" height="15" fill="#edba34"/>
<rect x="373" y="360" width="7" height="15" fill="#fbd12f"/>
<rect x="380" y="360" width="8" height="15" fill="#f5ec22"/>
<rect x="388" y="360" width="7" height="15" fill="#f8f818"/>
<rect x="395" y="360" width="7" height="15" fill="#f7f41c"/>
<rect x="402" y="360" width="7" height="15" fill="#f5e228"/>
<rect x="409" y="360" width="8" height="15" fill="#fec338"/>
<rect x="417" y="360" width="7" height="15" fill="#d3bf27"/>
<rect x="424" y="360" width="7" height="15" fill="#85cb56"/>
<rect x="431" y="360" width="7" height="15" fill="#48cb86"/>
<rect x="438" y="360" width="8" height="15" fill="#32c69e"/>
<rect x="446" y="360" width="7" height="15" fill="#25c2ad"/>
<rect x="453" y="360" width="7" height="15" fill="#12beb9"/>
<rect x="460" y="360" width="7" height="15" fill="#03bbc3"/>
<rect x="467" y="360" width="7" height="15" fill="#02b7cb"/>
<rect x="474" y="360" width="8" height="15" fill="#0bb4d2"/>
<rect x="482" y="360" width="7" height="15" fill="#14b0d8"/>
<rect x="489" y="360" width="7" height="15" fill="#19acdc"/>
<rect x="496" y="360" width="7" height="15" fill="#1da9e0"/>
<rect x="503" y="360" width="8" height="15" fill="#1fa6e2"/>
<rect x="511" y="360" width="7" height="15" fill="#21a3e4"/>
<rect x="518" y="360" width="7" height="15" fill="#23a0e5"/>
<rect x="525" y="360" width="7" height="15" fill="#249ee6"/>
<rect x="532" y="360" width="8" height="15" fill="#259ce7"/>
<rect x="540" y="360" width="7" height="15" fill="#269ae8"/>
<rect x="547" y="360" width="7" height="15" fill="#2699e9"/>
<rect x="554" y="360" width="8" height="15" fill="#2a92ee"/>
<rect x="91" y="375" width="7" height="16" fill="#4466fd"/>
<rect x="98" y="375" width="7" height="16" fill="#3f6dfe"/>
<rect x="105" y="375" width="8" height="16" fill="#3f6efe"/>
<rect x="113" y="375" width="14" height="16" fill="#3f6eff"/>
<rect x="127" y="375" width="7" height="16" fill="#3e6fff"/>
<rect x="134" y="375" width="8" height="16" fill="#3e70ff"/>
<rect x="142" y="375" width="7" height="16" fill="#3d70ff"/>
<rect x="149" y="375" width="7" height="16" fill="#3c71ff"/>
<rect x="156" y="375" width="7" height="16" fill="#3b72fe"/>
<rect x="163" y="375" width="8" height="16" fill="#3a73fe"/>
<rect x="171" y="375" width="7" height="16" fill="#3975fe"/>
<rect x="178" y="375" width="7" height="16" fill="#3776fe"/>
<rect x="185" y="375" width="7" height="16" fill="#3678fe"/>
<rect x="192" y="375" width="8" height="16" fill="#3479fd"/>
<rect x="200" y="375" width="7" height="16" fill="#337bfc"/>
<rect x="207" y="375" width="7" height="16" fill="#317dfc"/>
<rect x="214" y="375" width="7" height="16" fill="#307ffb"/>
<rect x="221" y="375" width="7" height="16" fill="#2f81fa"/>
<rect x="228" y="375" width="8" height="16" fill="#2e83f9"/>
<rect x="236" y="375" width="7" height="16" fill="#2e85f8"/>
<rect x="243" y="375" width="7" height="16" fill="#2d87f7"/>
<rect x="250" y="375" width="7" height="16" fill="#2d8af5"/>
<rect x="257" y="375" width="8" height="16" fill="#2d8cf3"/>
<rect x="265" y="375" width="7" height="16" fill="#2c8ff0"/>
<rect x="272" y="375" width="7" height="16" fill="#2a92ee"/>
<rect x="279" y="375" width="7" height="16" fill="#2895ec"/>
<rect x="286" y="375" width="8" height="16" fill="#2699ea"/>
<rect x="294" y="375" width="7" height="16" fill="#259ce7"/>
<rect x="301" y="375" width="7" height="16" fill="#23a0e5"/>
<rect x="308" y="375" width="7" height="16" fill="#20a4e3"/>
<rect x="315" y="375" width="8" height="16" fill="#1da9e0"/>
<rect x="323" y="375" width="7" height="16" fill="#18addb"/>
<rect x="330" y="375" width="7" height="16" fill="#10b2d5"/>
<rect x="337" y="375" width="7" height="16" fill="#04b6cc"/>
<rect x="344" y="375" width="7" height="16" fill="#03bbc2"/>
<rect x="351" y="375" width="8" height="16" fill="#18bfb6"/>
<rect x="359" y="375" width="7" height="16" fill="#2cc4a7"/>
<rect x="366" y="375" width="7" height="16" fill="#3cc991"/>
<rect x="373" y="375" width="7" height="16" fill="#73cd63"/>
<rect x="380" y="375" width="8" height="16" fill="#c7c12a"/>
<rect x="388" y="375" width="7" height="16" fill="#febe3c"/>
<rect x="395" y="375" width="7" height="16" fill="#f7dd2a"/>
<rect x="402" y="375" width="7" height="16" fill="#f6f21e"/>
<rect x="409" y="375" width="8" height="16" fill="#f8f818"/>
<rect x="417" y="375" width="7" height="16" fill="#f6f020"/>
<rect x="424" y="375" width="7" height="16" fill="#f8d92c"/>
<rect x="431" y="375" width="7" height="16" fill="#fabb3d"/>
<rect x="438" y="375" width="8" height="16" fill="#bfc32d"/>
<rect x="446" y="375" width="7" height="16" fill="#6dcd67"/>
<rect x="453" y="375" width="7" height="16" fill="#3bc993"/>
<rect x="460" y="375" width="7" height="16" fill="#2ac3a9"/>
<rect x="467" y="375" width="7" height="16" fill="#14bfb8"/>
<rect x="474" y="375" width="8" height="16" fill="#02bac4"/>
<rect x="482" y="375" width="7" height="16" fill="#06b5cf"/>
<rect x="489" y="375" width="7" height="16" fill="#13b0d7"/>
<rect x="496" y="375" width="7" height="16" fill="#1babde"/>
<rect x="503" y="375" width="8" height="16" fill="#1fa6e2"/>
<rect x="511" y="375" width="7" height="16" fill="#23a1e5"/>
<rect x="518" y="375" width="7" height="16" fill="#259ce7"/>
<rect x="525" y="375" width="7" height="16" fill="#2798ea"/>
<rect x="532" y="375" width="8" height="16" fill="#2995ec"/>
<rect x="540" y="375" width="7" height="16" fill="#2b92ee"/>
<rect x="547" y="375" width="7" height="16" fill="#2b90f0"/>
<rect x="554" y="375" width="8" height="16" fill="#2d89f6"/>
<rect x="91" y="391" width="7" height="15" fill="#4759f8"/>
<rect x="98" y="391" width="7" height="15" fill="#4660fc"/>
<rect x="105" y="391" width="8" height="15" fill="#4661fc"/>
<rect x="113" y="391" width="7" height="15" fill="#4561fc"/>
<rect x="120" y="391" width="7" height="15" fill="#4563fc"/>
<rect x="127" y="391" width="7" height="15" fill="#4564fd"/>
<rect x="134" y="391" width="8" height="15" fill="#4465fd"/>
<rect x="142" y="391" width="7" height="15" fill="#4367fd"/>
<rect x="149" y="391" width="7" height="15" fill="#4269fe"/>
<rect x="156" y="391" width="7" height="15" fill="#416bfe"/>
<rect x="163" y="391" width="8" height="15" fill="#406dfe"/>
<rect x="171" y="391" width="7" height="15" fill="#3e6fff"/>
<rect x="178" y="391" width="7" height="15" fill="#3c71ff"/>
<rect x="185" y="391" width="7" height="15" fill="#3a73fe"/>
<rect x="192" y="391" width="8" height="15" fill="#3876fe"/>
<rect x="200" y="391" width="7" height="15" fill="#3678fd"/>
<rect x="207" y="391" width="7" height="15" fill="#337bfd"/>
<rect x="214" y="391" width="7" height="15" fill="#317dfc"/>
<rect x="221" y="391" width="7" height="15" fill="#307ffb"/>
<rect x="228" y="391" width="8" height="15" fill="#2f82fa"/>
<rect x="236" y="391" width="7" height="15" fill="#2e84f8"/>
<rect x="243" y="391" width="7" height="15" fill="#2e87f7"/>
<rect x="250" y="391" width="7" height="15" fill="#2d89f5"/>
<rect x="257" y="391" width="8" height="15" fill="#2d8cf3"/>
<rect x="265" y="391" width="7" height="15" fill="#2c8ff1"/>
<rect x="272" y="391" width="7" height="15" fill="#2b92ef"/>
<rect x="279" y="391" width="7" height="15" fill="#2994ec"/>
<rect x="286" y="391" width="8" height="15" fill="#2797ea"/>
<rect x="294" y="391" width="7" height="15" fill="#269ae8"/>
<rect x="301" y="391" width="7" height="15" fill="#249ee6"/>
<rect x="308" y="391" width="7" height="15" fill="#23a1e4"/>
<rect x="315" y="391" width="8" height="15" fill="#20a4e3"/>
<rect x="323" y="391" width="7" height="15" fill="#1da8e0"/>
<rect x="330" y="391" width="7" height="15" fill="#1aacdd"/>
<rect x="337" y="391" width="7" height="15" fill="#14b0d8"/>
<rect x="344" y="391" width="7" height="15" fill="#0bb3d2"/>
<rect x="351" y="391" width="8" height="15" fill="#02b7cb"/>
<rect x="359" y="391" width="7" height="15" fill="#03bbc2"/>
<rect x="366" y="391" width="7" height="15" fill="#14beb8"/>
<rect x="373" y="391" width="7" height="15" fill="#27c2ac"/>
<rect x="380" y="391" width="8" height="15" fill="#33c79c"/>
<rect x="388" y="391" width="7" height="15" fill="#4ecc82"/>
<rect x="395" y="391" width="7" height="15" fill="#90ca4d"/>
<rect x="402" y="391" width="7" height="15" fill="#dcbd29"/>
<rect x="409" y="391" width="8" height="15" fill="#fec636"/>
<rect x="417" y="391" width="7" height="15" fill="#f5e327"/>
<rect x="424" y="391" width="7" height="15" fill="#f7f41c"/>
<rect x="431" y="391" width="7" height="15" fill="#f8f718"/>
<rect x="438" y="391" width="8" height="15" fill="#f5ec22"/>
<rect x="446" y="391" width="7" height="15" fill="#fbd32e"/>
<rect x="453" y="391" width="7" height="15" fill="#f4ba39"/>
<rect x="460" y="391" width="7" height="15" fill="#b5c533"/>
<rect x="467" y="391" width="7" height="15" fill="#67cd6c"/>
<rect x="474" y="391" width="8" height="15" fill="#3bc993"/>
<rect x="482" y="391" width="7" height="15" fill="#2cc4a7"/>
<rect x="489" y="391" width="7" height="15" fill="#1ac0b5"/>
<rect x="496" y="391" width="7" height="15" fill="#06bcc0"/>
<rect x="503" y="391" width="8" height="15" fill="#01b8ca"/>
<rect x="511" y="391" width="7" height="15" fill="#0bb3d2"/>
<rect x="518" y="391" width="7" height="15" fill="#15afd9"/>
<rect x="525" y="391" width="7" height="15" fill="#1aabde"/>
<rect x="532" y="391" width="8" height="15" fill="#1ea8e1"/>
<rect x="540" y="391" width="7" height="15" fill="#20a5e2"/>
<rect x="547" y="391" width="7" height="15" fill="#21a3e3"/>
<rect x="554" y="391" width="8" height="15" fill="#259ce7"/>
<rect x="91" y="406" width="7" height="15" fill="#3e26a8"/>
<rect x="98" y="406" width="7" height="15" fill="#4331c8"/>
<rect x="105" y="406" width="8" height="15" fill="#463cdf"/>
<rect x="113" y="406" width="7" height="15" fill="#4744e9"/>
<rect x="120" y="406" width="7" height="15" fill="#484bee"/>
<rect x="127" y="406" width="7" height="15" fill="#4850f2"/>
<rect x="134" y="406" width="8" height="15" fill="#4854f5"/>
<rect x="142" y="406" width="7" height="15" fill="#4758f8"/>
<rect x="149" y="406" width="7" height="15" fill="#475bf9"/>
<rect x="156" y="406" width="7" height="15" fill="#465efb"/>
<rect x="163" y="406" width="8" height="15" fill="#4561fc"/>
<rect x="171" y="406" width="7" height="15" fill="#4464fd"/>
<rect x="178" y="406" width="7" height="15" fill="#4367fd"/>
<rect x="185" y="406" width="7" height="15" fill="#4269fe"/>
<rect x="192" y="406" width="8" height="15" fill="#406cfe"/>
<rect x="200" y="406" width="7" height="15" fill="#3e6fff"/>
<rect x="207" y="406" width="7" height="15" fill="#3c71ff"/>
<rect x="214" y="406" width="7" height="15" fill="#3974fe"/>
<rect x="221" y="406" width="7" height="15" fill="#3777fe"/>
<rect x="228" y="406" width="8" height="15" fill="#347afd"/>
<rect x="236" y="406" width="7" height="15" fill="#327cfc"/>
<rect x="243" y="406" width="7" height="15" fill="#307ffb"/>
<rect x="250" y="406" width="7" height="15" fill="#2f82fa"/>
<rect x="257" y="406" width="8" height="15" fill="#2e84f8"/>
<rect x="265" y="406" width="7" height="15" fill="#2e87f7"/>
<rect x="272" y="406" width="7" height="15" fill="#2d8af5"/>
<rect x="279" y="406" width="7" height="15" fill="#2d8cf3"/>
<rect x="286" y="406" width="8" height="15" fill="#2c8ff0"/>
<rect x="294" y="406" width="7" height="15" fill="#2a92ee"/>
<rect x="301" y="406" width="7" height="15" fill="#2895ec"/>
<rect x="308" y="406" width="7" height="15" fill="#2798ea"/>
<rect x="315" y="406" width="8" height="15" fill="#259be7"/>
<rect x="323" y="406" width="7" height="15" fill="#249fe6"/>
<rect x="330" y="406" width="7" height="15" fill="#22a2e4"/>
<rect x="337" y="406" width="7" height="15" fill="#1fa6e2"/>
<rect x="344" y="406" width="7" height="15" fill="#1caadf"/>
<rect x="351" y="406" width="8" height="15" fill="#18addb"/>
<rect x="359" y="406" width="7" height="15" fill="#12b1d6"/>
<rect x="366" y="406" width="7" height="15" fill="#07b5d0"/>
<rect x="373" y="406" width="7" height="15" fill="#01b9c8"/>
<rect x="380" y="406" width="8" height="15" fill="#08bcbf"/>
<rect x="388" y="406" width="7" height="15" fill="#1bc0b4"/>
<rect x="395" y="406" width="7" height="15" fill="#2bc3a8"/>
<rect x="402" y="406" width="7" height="15" fill="#37c897"/>
<rect x="409" y="406" width="8" height="15" fill="#59cc78"/>
<rect x="417" y="406" width="7" height="15" fill="#a0c841"/>
<rect x="424" y="406" width="7" height="15" fill="#e6bb2d"/>
<rect x="431" y="406" width="7" height="15" fill="#fdcb33"/>
<rect x="438" y="406" width="8" height="15" fill="#f5e626"/>
<rect x="446" y="406" width="7" height="15" fill="#f7f51b"/>
<rect x="453" y="406" width="7" height="15" fill="#f8f719"/>
<rect x="460" y="406" width="7" height="15" fill="#f5ea24"/>
<rect x="467" y="406" width="7" height="15" fill="#fbd12f"/>
<rect x="474" y="406" width="8" height="15" fill="#f1ba37"/>
<rect x="482" y="406" width="7" height="15" fill="#b3c534"/>
<rect x="489" y="406" width="7" height="15" fill="#68cd6b"/>
<rect x="496" y="406" width="7" height="15" fill="#3dc990"/>
<rect x="503" y="406" width="8" height="15" fill="#2ec5a4"/>
<rect x="511" y="406" width="7" height="15" fill="#1fc1b1"/>
<rect x="518" y="406" width="7" height="15" fill="#0cbdbc"/>
<rect x="525" y="406" width="7" height="15" fill="#02bac5"/>
<rect x="532" y="406" width="8" height="15" fill="#03b7cc"/>
<rect x="540" y="406" width="7" height="15" fill="#08b4d0"/>
<rect x="547" y="406" width="7" height="15" fill="#0db3d3"/>
<rect x="554" y="406" width="8" height="15" fill="#18addb"/>
<rect x="91" y="421" width="7" height="15" fill="#484aee"/>
<rect x="98" y="421" width="7" height="15" fill="#4852f4"/>
<rect x="105" y="421" width="8" height="15" fill="#4853f4"/>
<rect x="113" y="421" width="7" height="15" fill="#4853f5"/>
<rect x="120" y="421" width="7" height="15" fill="#4755f6"/>
<rect x="127" y="421" width="7" height="15" fill="#4756f7"/>
<rect x="134" y="421" width="8" height="15" fill="#4758f8"/>
<rect x="142" y="421" width="7" height="15" fill="#4759f9"/>
<rect x="149" y="421" width="7" height="15" fill="#475bf9"/>
<rect x="156" y="421" width="7" height="15" fill="#465dfa"/>
<rect x="163" y="421" width="8" height="15" fill="#465ffb"/>
<rect x="171" y="421" width="7" height="15" fill="#4561fc"/>
<rect x="178" y="421" width="7" height="15" fill="#4563fd"/>
<rect x="185" y="421" width="7" height="15" fill="#4465fd"/>
<rect x="192" y="421" width="8" height="15" fill="#4367fd"/>
<rect x="200" y="421" width="7" height="15" fill="#426afe"/>
<rect x="207" y="421" width="7" height="15" fill="#406cfe"/>
<rect x="214" y="421" width="7" height="15" fill="#3f6eff"/>
<rect x="221" y="421" width="7" height="15" fill="#3d71ff"/>
<rect x="228" y="421" width="8" height="15" fill="#3a73fe"/>
<rect x="236" y="421" width="7" height="15" fill="#3876fe"/>
<rect x="243" y="421" width="7" height="15" fill="#3578fd"/>
<rect x="250" y="421" width="7" height="15" fill="#337bfc"/>
<rect x="257" y="421" width="8" height="15" fill="#317efb"/>
<rect x="265" y="421" width="7" height="15" fill="#3080fa"/>
<rect x="272" y="421" width="7" height="15" fill="#2e83f9"/>
<rect x="279" y="421" width="7" height="15" fill="#2e85f8"/>
<rect x="286" y="421" width="8" height="15" fill="#2d88f6"/>
<rect x="294" y="421" width="7" height="15" fill="#2d8bf4"/>
<rect x="301" y="421" width="7" height="15" fill="#2d8df2"/>
<rect x="308" y="421" width="7" height="15" fill="#2c90f0"/>
<rect x="315" y="421" width="8" height="15" fill="#2a93ee"/>
<rect x="323" y="421" width="7" height="15" fill="#2896eb"/>
<rect x="330" y="421" width="7" height="15" fill="#2699e9"/>
<rect x="337" y="421" width="7" height="15" fill="#259ce7"/>
<rect x="344" y="421" width="7" height="15" fill="#239fe5"/>
<rect x="351" y="421" width="8" height="15" fill="#21a3e3"/>
<rect x="359" y="421" width="7" height="15" fill="#1fa6e1"/>
<rect x="366" y="421" width="7" height="15" fill="#1caadf"/>
<rect x="373" y="421" width="7" height="15" fill="#17aedb"/>
<rect x="380" y="421" width="8" height="15" fill="#10b2d5"/>
<rect x="388" y="421" width="7" height="15" fill="#06b5cf"/>
<rect x="395" y="421" width="7" height="15" fill="#01b9c7"/>
<rect x="402" y="421" width="7" height="15" fill="#09bcbe"/>
<rect x="409" y="421" width="8" height="15" fill="#1cc0b3"/>
<rect x="417" y="421" width="7" height="15" fill="#2cc4a7"/>
<rect x="424" y="421" width="7" height="15" fill="#39c995"/>
<rect x="431" y="421" width="7" height="15" fill="#5ecd74"/>
<rect x="438" y="421" width="8" height="15" fill="#a6c83d"/>
<rect x="446" y="421" width="7" height="15" fill="#e9bb2f"/>
<rect x="453" y="421" width="7" height="15" fill="#fdcc32"/>
<rect x="460" y="421" width="7" height="15" fill="#f5e626"/>
<rect x="467" y="421" width="7" height="15" fill="#f7f51b"/>
<rect x="474" y="421" width="8" height="15" fill="#f8f619"/>
<rect x="482" y="421" width="7" height="15" fill="#f5eb23"/>
<rect x="489" y="421" width="7" height="15" fill="#fbd32f"/>
<rect x="496" y="421" width="7" height="15" fill="#f4ba3a"/>
<rect x="503" y="421" width="8" height="15" fill="#bac430"/>
<rect x="511" y="421" width="7" height="15" fill="#6fcd66"/>
<rect x="518" y="421" width="7" height="15" fill="#3fca8e"/>
<rect x="525" y="421" width="7" height="15" fill="#2ec5a4"/>
<rect x="532" y="421" width="8" height="15" fill="#1cc0b3"/>
<rect x="540" y="421" width="7" height="15" fill="#04bbc1"/>
<rect x="547" y="421" width="7" height="15" fill="#06b5ce"/>
<rect x="554" y="421" width="8" height="15" fill="#19acdc"/>
<rect x="91" y="436" width="7" height="16" fill="#4330c5"/>
<rect x="98" y="436" width="7" height="16" fill="#4537d5"/>
<rect x="105" y="436" width="8" height="16" fill="#463cde"/>
<rect x="113" y="436" width="7" height="16" fill="#4741e5"/>
<rect x="120" y="436" width="7" height="16" fill="#4746ea"/>
<rect x="127" y="436" width="7" height="16" fill="#484aee"/>
<rect x="134" y="436" width="8" height="16" fill="#484ef1"/>
<rect x="142" y="436" width="7" height="16" fill="#4852f4"/>
<rect x="149" y="436" width="7" height="16" fill="#4755f6"/>
<rect x="156" y="436" width="7" height="16" fill="#4757f7"/>
<rect x="163" y="436" width="8" height="16" fill="#475af9"/>
<rect x="171" y="436" width="7" height="16" fill="#475cfa"/>
<rect x="178" y="436" width="7" height="16" fill="#465ffb"/>
<rect x="185" y="436" width="7" height="16" fill="#4561fc"/>
<rect x="192" y="436" width="8" height="16" fill="#4563fd"/>
<rect x="200" y="436" width="7" height="16" fill="#4465fd"/>
<rect x="207" y="436" width="7" height="16" fill="#4367fd"/>
<rect x="214" y="436" width="7" height="16" fill="#426afe"/>
<rect x="221" y="436" width="7" height="16" fill="#416cfe"/>
<rect x="228" y="436" width="8" height="16" fill="#3f6efe"/>
<rect x="236" y="436" width="7" height="16" fill="#3d70ff"/>
<rect x="243" y="436" width="7" height="16" fill="#3b72ff"/>
<rect x="250" y="436" width="7" height="16" fill="#3974fe"/>
<rect x="257" y="436" width="8" height="16" fill="#3777fe"/>
<rect x="265" y="436" width="7" height="16" fill="#3579fd"/>
<rect x="272" y="436" width="7" height="16" fill="#327bfc"/>
<rect x="279" y="436" width="7" height="16" fill="#317efb"/>
<rect x="286" y="436" width="8" height="16" fill="#3080fa"/>
<rect x="294" y="436" width="7" height="16" fill="#2f82f9"/>
<rect x="301" y="436" width="7" height="16" fill="#2e85f8"/>
<rect x="308" y="436" width="7" height="16" fill="#2e87f7"/>
<rect x="315" y="436" width="8" height="16" fill="#2d8af5"/>
<rect x="323" y="436" width="7" height="16" fill="#2d8cf3"/>
<rect x="330" y="436" width="7" height="16" fill="#2c8ff1"/>
<rect x="337" y="436" width="7" height="16" fill="#2b91ef"/>
<rect x="344" y="436" width="7" height="16" fill="#2994ed"/>
<rect x="351" y="436" width="8" height="16" fill="#2797eb"/>
<rect x="359" y="436" width="7" height="16" fill="#269ae8"/>
<rect x="366" y="436" width="7" height="16" fill="#249de6"/>
<rect x="373" y="436" width="7" height="16" fill="#23a1e4"/>
<rect x="380" y="436" width="8" height="16" fill="#20a4e3"/>
<rect x="388" y="436" width="7" height="16" fill="#1da8e0"/>
<rect x="395" y="436" width="7" height="16" fill="#1aacdd"/>
<rect x="402" y="436" width="7" height="16" fill="#14b0d8"/>
<rect x="409" y="436" width="8" height="16" fill="#0ab4d2"/>
<rect x="417" y="436" width="7" height="16" fill="#01b8ca"/>
<rect x="424" y="436" width="7" height="16" fill="#05bbc1"/>
<rect x="431" y="436" width="7" height="16" fill="#18bfb6"/>
<rect x="438" y="436" width="8" height="16" fill="#2ac3a9"/>
<rect x="446" y="436" width="7" height="16" fill="#37c897"/>
<rect x="453" y="436" width="7" height="16" fill="#5ccc76"/>
<rect x="460" y="436" width="7" height="16" fill="#a2c83f"/>
<rect x="467" y="436" width="7" height="16" fill="#e5bb2d"/>
<rect x="474" y="436" width="8" height="16" fill="#feca34"/>
<rect x="482" y="436" width="7" height="16" fill="#f5e427"/>
<rect x="489" y="436" width="7" height="16" fill="#f7f41c"/>
<rect x="496" y="436" width="7" height="16" fill="#f8f719"/>
<rect x="503" y="436" width="8" height="16" fill="#f5ed22"/>
<rect x="511" y="436" width="7" height="16" fill="#f9d72c"/>
<rect x="518" y="436" width="7" height="16" fill="#fbbc3d"/>
<rect x="525" y="436" width="7" height="16" fill="#c8c129"/>
<rect x="532" y="436" width="8" height="16" fill="#7fcc5a"/>
<rect x="540" y="436" width="7" height="16" fill="#49cb85"/>
<rect x="547" y="436" width="7" height="16" fill="#36c898"/>
<rect x="554" y="436" width="8" height="16" fill="#2bc3a8"/>
<rect x="91" y="452" width="7" height="16" fill="#4537d5"/>
<rect x="98" y="452" width="7" height="16" fill="#463ee1"/>
<rect x="105" y="452" width="8" height="16" fill="#4740e4"/>
<rect x="113" y="452" width="7" height="16" fill="#4743e7"/>
<rect x="120" y="452" width="7" height="16" fill="#4747eb"/>
<rect x="127" y="452" width="7" height="16" fill="#484aee"/>
<rect x="134" y="452" width="8" height="16" fill="#484df0"/>
<rect x="142" y="452" width="7" height="16" fill="#4850f2"/>
<rect x="149" y="452" width="7" height="16" fill="#4852f4"/>
<rect x="156" y="452" width="7" height="16" fill="#4755f6"/>
<rect x="163" y="452" width="8" height="16" fill="#4757f7"/>
<rect x="171" y="452" width="7" height="16" fill="#4759f8"/>
<rect x="178" y="452" width="7" height="16" fill="#475bf9"/>
<rect x="185" y="452" width="7" height="16" fill="#465dfa"/>
<rect x="192" y="452" width="8" height="16" fill="#465ffb"/>
<rect x="200" y="452" width="7" height="16" fill="#4661fc"/>
<rect x="207" y="452" width="7" height="16" fill="#4562fc"/>
<rect x="214" y="452" width="7" height="16" fill="#4564fd"/>
<rect x="221" y="452" width="7" height="16" fill="#4466fd"/>
<rect x="228" y="452" width="8" height="16" fill="#4367fd"/>
<rect x="236" y="452" width="7" height="16" fill="#4269fe"/>
<rect x="243" y="452" width="7" height="16" fill="#416afe"/>
<rect x="250" y="452" width="7" height="16" fill="#406cfe"/>
<rect x="257" y="452" width="8" height="16" fill="#3f6efe"/>
<rect x="265" y="452" width="7" height="16" fill="#3e6fff"/>
<rect x="272" y="452" width="7" height="16" fill="#3d71ff"/>
<rect x="279" y="452" width="7" height="16" fill="#3b73fe"/>
<rect x="286" y="452" width="8" height="16" fill="#3974fe"/>
<rect x="294" y="452" width="7" height="16" fill="#3876fe"/>
<rect x="301" y="452" width="7" height="16" fill="#3678fe"/>
<rect x="308" y="452" width="7" height="16" fill="#3479fd"/>
<rect x="315" y="452" width="8" height="16" fill="#327bfc"/>
<rect x="323" y="452" width="7" height="16" fill="#317dfc"/>
<rect x="330" y="452" width="7" height="16" fill="#307ffb"/>
<rect x="337" y="452" width="7" height="16" fill="#2f81fa"/>
<rect x="344" y="452" width="7" height="16" fill="#2f83f9"/>
<rect x="351" y="452" width="8" height="16" fill="#2e85f8"/>
<rect x="359" y="452" width="7" height="16" fill="#2e87f7"/>
<rect x="366" y="452" width="7" height="16" fill="#2d89f5"/>
<rect x="373" y="452" width="7" height="16" fill="#2d8cf3"/>
<rect x="380" y="452" width="8" height="16" fill="#2c8ff1"/>
<rect x="388" y="452" width="7" height="16" fill="#2b92ee"/>
<rect x="395" y="452" width="7" height="16" fill="#2895ec"/>
<rect x="402" y="452" width="7" height="16" fill="#2699e9"/>
<rect x="409" y="452" width="8" height="16" fill="#249ee6"/>
<rect x="417" y="452" width="7" height="16" fill="#21a3e4"/>
<rect x="424" y="452" width="7" height="16" fill="#1da8e0"/>
<rect x="431" y="452" width="7" height="16" fill="#18addb"/>
<rect x="438" y="452" width="8" height="16" fill="#0db3d3"/>
<rect x="446" y="452" width="7" height="16" fill="#01b8ca"/>
<rect x="453" y="452" width="7" height="16" fill="#09bdbe"/>
<rect x="460" y="452" width="7" height="16" fill="#22c1b0"/>
<rect x="467" y="452" width="7" height="16" fill="#33c69e"/>
<rect x="474" y="452" width="8" height="16" fill="#51cc7f"/>
<rect x="482" y="452" width="7" height="16" fill="#94ca4a"/>
<rect x="489" y="452" width="7" height="16" fill="#dbbd29"/>
<rect x="496" y="452" width="7" height="16" fill="#fec438"/>
<rect x="503" y="452" width="8" height="16" fill="#f6df29"/>
<rect x="511" y="452" width="7" height="16" fill="#f6f11f"/>
<rect x="518" y="452" width="7" height="16" fill="#f8f719"/>
<rect x="525" y="452" width="7" height="16" fill="#f6f11f"/>
<rect x="532" y="452" width="8" height="16" fill="#f6de29"/>
<rect x="540" y="452" width="7" height="16" fill="#fec438"/>
<rect x="547" y="452" width="7" height="16" fill="#dcbd29"/>
<rect x="554" y="452" width="8" height="16" fill="#8fcb4e"/>
</g>
<defs><linearGradient id="pg" x1="0" y1="1" x2="0" y2="0">
<stop offset="0.0000" stop-color="#3e26a8"/>
<stop offset="0.0159" stop-color="#402ab4"/>
<stop offset="0.0317" stop-color="#422ec0"/>
<stop offset="0.0476" stop-color="#4332cb"/>
<stop offset="0.0635" stop-color="#4537d5"/>
<stop offset="0.0794" stop-color="#463cde"/>
<stop offset="0.0952" stop-color="#4741e5"/>
<stop offset="0.1111" stop-color="#4747eb"/>
<stop offset="0.1270" stop-color="#484df0"/>
<stop offset="0.1429" stop-color="#4852f4"/>
<stop offset="0.1587" stop-color="#4758f8"/>
<stop offset="0.1746" stop-color="#465efb"/>
<stop offset="0.1905" stop-color="#4563fd"/>
<stop offset="0.2063" stop-color="#4269fe"/>
<stop offset="0.2222" stop-color="#3e6fff"/>
<stop offset="0.2381" stop-color="#3875fe"/>
<stop offset="0.2540" stop-color="#327cfc"/>
<stop offset="0.2698" stop-color="#2f81fa"/>
<stop offset="0.2857" stop-color="#2e87f7"/>
<stop offset="0.3016" stop-color="#2d8cf3"/>
<stop offset="0.3175" stop-color="#2b91ef"/>
<stop offset="0.3333" stop-color="#2797eb"/>
<stop offset="0.3492" stop-color="#259be8"/>
<stop offset="0.3651" stop-color="#23a0e5"/>
<stop offset="0.3810" stop-color="#20a5e3"/>
<stop offset="0.3968" stop-color="#1ca9df"/>
<stop offset="0.4127" stop-color="#18addb"/>
<stop offset="0.4286" stop-color="#12b1d6"/>
<stop offset="0.4444" stop-color="#08b5d0"/>
<stop offset="0.4603" stop-color="#01b8ca"/>
<stop offset="0.4762" stop-color="#02bac3"/>
<stop offset="0.4921" stop-color="#0bbdbd"/>
<stop offset="0.5079" stop-color="#19bfb6"/>
<stop offset="0.5238" stop-color="#24c1ae"/>
<stop offset="0.5397" stop-color="#2cc4a7"/>
<stop offset="0.5556" stop-color="#31c69f"/>
<stop offset="0.5714" stop-color="#37c897"/>
<stop offset="0.5873" stop-color="#3fca8e"/>
<stop offset="0.6032" stop-color="#4acb84"/>
<stop offset="0.6190" stop-color="#57cc7a"/>
<stop offset="0.6349" stop-color="#64cd6f"/>
<stop offset="0.6508" stop-color="#72cd64"/>
<stop offset="0.6667" stop-color="#81cc59"/>
<stop offset="0.6825" stop-color="#8fcb4e"/>
<stop offset="0.6984" stop-color="#9dc943"/>
<stop offset="0.7143" stop-color="#abc739"/>
<stop offset="0.7302" stop-color="#b9c431"/>
<stop offset="0.7460" stop-color="#c5c22a"/>
<stop offset="0.7619" stop-color="#d1bf27"/>
<stop offset="0.7778" stop-color="#dcbd29"/>
<stop offset="0.7937" stop-color="#e6bb2d"/>
<stop offset="0.8095" stop-color="#f0ba36"/>
<stop offset="0.8254" stop-color="#f8ba3d"/>
<stop offset="0.8413" stop-color="#febe3c"/>
<stop offset="0.8571" stop-color="#fec338"/>
<stop offset="0.8730" stop-color="#fec934"/>
<stop offset="0.8889" stop-color="#fccf30"/>
<stop offset="0.9048" stop-color="#fad62d"/>
<stop offset="0.9206" stop-color="#f7dc2a"/>
<stop offset="0.9365" stop-color="#f5e327"/>
<stop offset="0.9524" stop-color="#f5e924"/>
<stop offset="0.9683" stop-color="#f6ef20"/>
<stop offset="0.9841" stop-color="#f7f51b"/>
<stop offset="1.0000" stop-color="#f9fb15"/>
</linearGradient></defs>
<rect x="588.50" y="39.50" width="21.00" height="428.00" fill="url(#pg)"/>
<g fill="none" stroke="#000" stroke-width="1">
<rect x="91.50" y="39.50" width="470.00" height="428.00"/>
<rect x="588.50" y="39.50" width="21.00" height="428.00"/>
<path d="M95.5 467.0v-5M95.5 40.0v5M187.5 467.0v-5M187.5 40.0v5M280.5 467.0v-5M280.5 40.0v5M372.5 467.0v-5M372.5 40.0v5M465.5 467.0v-5M465.5 40.0v5M557.5 467.0v-5M557.5 40.0v5M92.0 40.5h5M561.0 40.5h-5M92.0 94.5h5M561.0 94.5h-5M92.0 148.5h5M561.0 148.5h-5M92.0 203.5h5M561.0 203.5h-5M92.0 257.5h5M561.0 257.5h-5M92.0 312.5h5M561.0 312.5h-5M92.0 366.5h5M561.0 366.5h-5M92.0 420.5h5M561.0 420.5h-5M609.0 56.5h-6M609.0 117.5h-6M609.0 177.5h-6M609.0 237.5h-6M609.0 297.5h-6M609.0 357.5h-6M609.0 417.5h-6"/>
</g>
<g font-size="16.4px">
<text x="95.20" y="485.90" text-anchor="middle" textLength="8.71" lengthAdjust="spacingAndGlyphs">0</text>
<text x="187.20" y="485.90" text-anchor="middle" textLength="26.13" lengthAdjust="spacingAndGlyphs">100</text>
<text x="280.20" y="485.90" text-anchor="middle" textLength="26.13" lengthAdjust="spacingAndGlyphs">200</text>
<text x="371.40" y="485.90" text-anchor="middle" textLength="26.13" lengthAdjust="spacingAndGlyphs">300</text>
<text x="464.40" y="485.90" text-anchor="middle" textLength="26.13" lengthAdjust="spacingAndGlyphs">400</text>
<text x="557.20" y="485.90" text-anchor="middle" textLength="26.13" lengthAdjust="spacingAndGlyphs">500</text>
<text x="84.40" y="45.80" text-anchor="end" textLength="30.48" lengthAdjust="spacingAndGlyphs">0.00</text>
<text x="84.40" y="100.97" text-anchor="end" textLength="30.48" lengthAdjust="spacingAndGlyphs">0.25</text>
<text x="84.40" y="154.55" text-anchor="end" textLength="30.48" lengthAdjust="spacingAndGlyphs">0.50</text>
<text x="84.40" y="208.92" text-anchor="end" textLength="30.48" lengthAdjust="spacingAndGlyphs">0.75</text>
<text x="84.40" y="263.80" text-anchor="end" textLength="29.53" lengthAdjust="spacingAndGlyphs">1.00</text>
<text x="84.40" y="317.68" text-anchor="end" textLength="29.53" lengthAdjust="spacingAndGlyphs">1.25</text>
<text x="84.40" y="371.55" text-anchor="end" textLength="29.53" lengthAdjust="spacingAndGlyphs">1.50</text>
<text x="84.40" y="426.93" text-anchor="end" textLength="29.53" lengthAdjust="spacingAndGlyphs">1.75</text>
<text x="616.50" y="62.50" text-anchor="start" textLength="23.58" lengthAdjust="spacingAndGlyphs">-20</text>
<text x="616.50" y="122.65" text-anchor="start" textLength="23.58" lengthAdjust="spacingAndGlyphs">-40</text>
<text x="616.50" y="182.80" text-anchor="start" textLength="23.58" lengthAdjust="spacingAndGlyphs">-60</text>
<text x="616.50" y="242.95" text-anchor="start" textLength="23.58" lengthAdjust="spacingAndGlyphs">-80</text>
<text x="616.50" y="303.10" text-anchor="start">-100</text>
<text x="616.50" y="363.25" text-anchor="start">-120</text>
<text x="616.50" y="423.40" text-anchor="start">-140</text>
</g>
<g font-size="16.2px">
<text x="325.80" y="509.70" text-anchor="middle">Frequency (Hz)</text>
<text transform="translate(40.60 254.60) rotate(-90)" text-anchor="middle">Time (s)</text>
<text transform="translate(669 0) rotate(-90)"><tspan x="-347.88" textLength="44.36" lengthAdjust="spacingAndGlyphs">Power</tspan><tspan x="-300.60" textLength="5.40" lengthAdjust="spacingAndGlyphs" stroke="none">/</tspan><tspan x="-292.71" textLength="66.44" lengthAdjust="spacingAndGlyphs">frequency</tspan> <tspan x="-222.40" textLength="27.54" lengthAdjust="spacingAndGlyphs">(dB</tspan><tspan x="-193.20" textLength="5.40" lengthAdjust="spacingAndGlyphs" stroke="none">/</tspan><tspan x="-186.94" textLength="27.22" lengthAdjust="spacingAndGlyphs">Hz)</tspan></text>
</g>
</svg></body></html>
